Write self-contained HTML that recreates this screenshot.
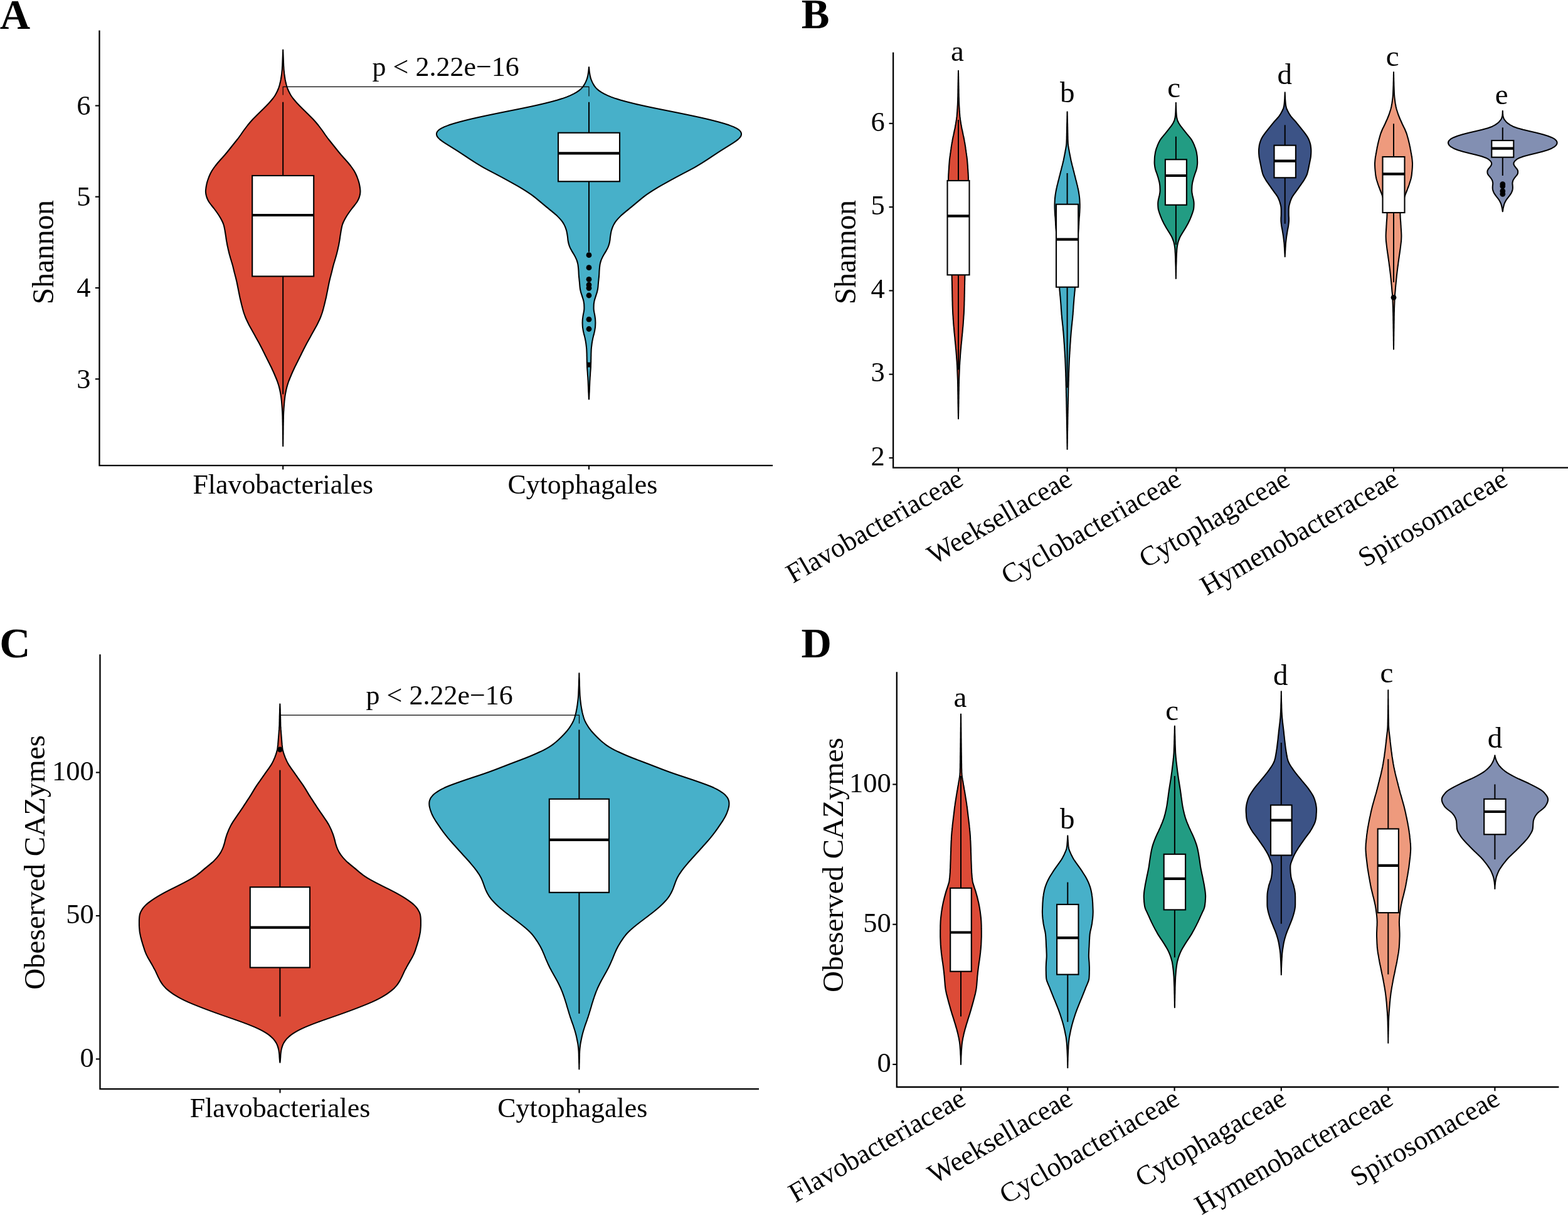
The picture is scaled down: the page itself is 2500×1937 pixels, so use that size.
<!DOCTYPE html>
<html><head><meta charset="utf-8"><title>Figure</title>
<style>
html,body{margin:0;padding:0;background:#fff;}
body{width:2500px;height:1937px;overflow:hidden;}
svg{display:block;}
text{font-family:'Liberation Serif', 'Times New Roman', serif;fill:#000;}
</style></head>
<body>
<svg width="2500" height="1937" viewBox="0 0 2500 1937">
<rect width="2500" height="1937" fill="#fff"/>
<text x="-0.3" y="45.5" font-size="67" text-anchor="start" font-weight="bold">A</text>
<path d="M158.5,48.5 V742.2 H1232" fill="none" stroke="#000" stroke-width="2.3" stroke-linecap="butt" stroke-linejoin="miter"/>
<line x1="151.9" y1="168.5" x2="158.5" y2="168.5" stroke="#000" stroke-width="2.1" stroke-linecap="butt"/>
<text x="144.6" y="182.7" font-size="44.5" text-anchor="end" font-weight="normal">6</text>
<line x1="151.9" y1="313.7" x2="158.5" y2="313.7" stroke="#000" stroke-width="2.1" stroke-linecap="butt"/>
<text x="144.6" y="327.9" font-size="44.5" text-anchor="end" font-weight="normal">5</text>
<line x1="151.9" y1="459" x2="158.5" y2="459" stroke="#000" stroke-width="2.1" stroke-linecap="butt"/>
<text x="144.6" y="473.2" font-size="44.5" text-anchor="end" font-weight="normal">4</text>
<line x1="151.9" y1="604.3" x2="158.5" y2="604.3" stroke="#000" stroke-width="2.1" stroke-linecap="butt"/>
<text x="144.6" y="618.5" font-size="44.5" text-anchor="end" font-weight="normal">3</text>
<line x1="451.2" y1="742.2" x2="451.2" y2="748.5" stroke="#000" stroke-width="2.1" stroke-linecap="butt"/>
<line x1="939" y1="742.2" x2="939" y2="748.5" stroke="#000" stroke-width="2.1" stroke-linecap="butt"/>
<text x="85.3" y="402" font-size="47.5" text-anchor="middle" font-weight="normal" transform="rotate(-90 85.3 402)">Shannon</text>
<text x="451.2" y="787.1" font-size="43.9" text-anchor="middle" font-weight="normal">Flavobacteriales</text>
<text x="928.9" y="787.1" font-size="43.9" text-anchor="middle" font-weight="normal">Cytophagales</text>
<path d="M451.2,79.5 451.3,82 451.4,84.5 451.5,87 451.6,89.5 451.7,92 451.8,94.5 451.9,97 452,99.5 452.1,102 452.2,104.5 452.4,107 452.5,109.5 452.7,112 453,114.5 453.2,117 453.5,119.5 453.9,122 454.3,124.5 454.7,127 455.2,129.5 455.8,132 456.4,134.5 457.1,137 457.9,139.5 458.8,142 459.9,144.5 461.1,147 462.4,149.5 463.8,152 465.5,154.5 467.3,157 469.4,159.5 471.5,162 473.7,164.5 476.1,167 478.5,169.5 481,172 483.5,174.5 486.1,177 488.6,179.5 491.2,182 493.7,184.5 496.2,187 498.7,189.5 501,192 503.2,194.5 505.3,197 507.4,199.5 509.3,202 511.2,204.5 513.1,207 514.9,209.5 516.6,212 518.3,214.5 520.1,217 521.9,219.5 523.8,222 525.8,224.5 527.8,227 529.8,229.5 531.8,232 533.8,234.5 535.8,237 537.8,239.5 539.8,242 541.9,244.5 544,247 546.2,249.5 548.4,252 550.7,254.5 552.9,257 555.1,259.5 557.1,262 559.1,264.5 561,267 562.7,269.5 564.4,272 565.8,274.5 567.1,277 568.2,279.5 569.3,282 570.2,284.5 571.1,287 571.9,289.5 572.6,292 573.1,294.5 573.6,297 574,299.5 574.3,302 574.5,304.5 574.4,307 574.1,309.5 573.5,312 572.8,314.5 571.8,317 570.6,319.5 569.2,322 567.4,324.5 565.5,327 563.5,329.5 561.5,332 559.6,334.5 557.8,337 556,339.5 554.3,342 552.7,344.5 551.2,347 549.8,349.5 548.5,352 547.3,354.5 546.3,357 545.5,359.5 544.9,362 544.4,364.5 543.9,367 543.5,369.5 543.1,372 542.7,374.5 542.3,377 542,379.5 541.6,382 541.2,384.5 540.7,387 540.3,389.5 539.8,392 539.2,394.5 538.7,397 538.1,399.5 537.5,402 536.9,404.5 536.2,407 535.5,409.5 534.8,412 534,414.5 533.3,417 532.5,419.5 531.8,422 531.1,424.5 530.5,427 529.9,429.5 529.3,432 528.7,434.5 528,437 527.4,439.5 526.7,442 526.1,444.5 525.5,447 524.9,449.5 524.4,452 523.9,454.5 523.4,457 522.9,459.5 522.4,462 521.9,464.5 521.4,467 520.9,469.5 520.4,472 519.9,474.5 519.3,477 518.7,479.5 518.1,482 517.5,484.5 516.9,487 516.2,489.5 515.6,492 514.9,494.5 514.2,497 513.4,499.5 512.5,502 511.6,504.5 510.6,507 509.5,509.5 508.3,512 507.1,514.5 505.9,517 504.6,519.5 503.2,522 501.8,524.5 500.4,527 499,529.5 497.6,532 496.2,534.5 494.9,537 493.5,539.5 492.1,542 490.7,544.5 489.3,547 488,549.5 486.7,552 485.4,554.5 484.1,557 482.9,559.5 481.6,562 480.4,564.5 479.2,567 477.9,569.5 476.7,572 475.4,574.5 474.2,577 472.9,579.5 471.7,582 470.4,584.5 469.2,587 468.1,589.5 466.9,592 465.8,594.5 464.7,597 463.7,599.5 462.6,602 461.6,604.5 460.6,607 459.7,609.5 458.9,612 458.1,614.5 457.4,617 456.8,619.5 456.2,622 455.7,624.5 455.2,627 454.8,629.5 454.4,632 454.1,634.5 453.8,637 453.5,639.5 453.3,642 453.1,644.5 452.9,647 452.7,649.5 452.5,652 452.4,654.5 452.2,657 452.1,659.5 452,662 451.9,664.5 451.9,667 451.8,669.5 451.8,672 451.7,674.5 451.7,677 451.6,679.5 451.6,682 451.6,684.5 451.5,687 451.5,689.5 451.5,692 451.4,694.5 451.4,697 451.4,699.5 451.3,702 451.3,704.5 451.3,707 451.2,709.5 451.2,711.3 451.2,709.5 451.1,707 451.1,704.5 451.1,702 451,699.5 451,697 451,694.5 450.9,692 450.9,689.5 450.9,687 450.8,684.5 450.8,682 450.8,679.5 450.7,677 450.7,674.5 450.6,672 450.6,669.5 450.5,667 450.5,664.5 450.4,662 450.3,659.5 450.2,657 450,654.5 449.9,652 449.7,649.5 449.5,647 449.3,644.5 449.1,642 448.9,639.5 448.6,637 448.3,634.5 448,632 447.6,629.5 447.2,627 446.7,624.5 446.2,622 445.6,619.5 445,617 444.3,614.5 443.5,612 442.7,609.5 441.8,607 440.8,604.5 439.8,602 438.7,599.5 437.7,597 436.6,594.5 435.5,592 434.3,589.5 433.2,587 432,584.5 430.7,582 429.5,579.5 428.2,577 427,574.5 425.7,572 424.5,569.5 423.2,567 422,564.5 420.8,562 419.5,559.5 418.3,557 417,554.5 415.7,552 414.4,549.5 413.1,547 411.7,544.5 410.3,542 408.9,539.5 407.5,537 406.2,534.5 404.8,532 403.4,529.5 402,527 400.6,524.5 399.2,522 397.8,519.5 396.5,517 395.3,514.5 394.1,512 392.9,509.5 391.8,507 390.8,504.5 389.9,502 389,499.5 388.2,497 387.5,494.5 386.8,492 386.2,489.5 385.5,487 384.9,484.5 384.3,482 383.7,479.5 383.1,477 382.5,474.5 382,472 381.5,469.5 381,467 380.5,464.5 380,462 379.5,459.5 379,457 378.5,454.5 378,452 377.5,449.5 376.9,447 376.3,444.5 375.7,442 375,439.5 374.4,437 373.7,434.5 373.1,432 372.5,429.5 371.9,427 371.3,424.5 370.6,422 369.9,419.5 369.1,417 368.4,414.5 367.6,412 366.9,409.5 366.2,407 365.5,404.5 364.9,402 364.3,399.5 363.7,397 363.2,394.5 362.6,392 362.1,389.5 361.7,387 361.2,384.5 360.8,382 360.4,379.5 360.1,377 359.7,374.5 359.3,372 358.9,369.5 358.5,367 358,364.5 357.5,362 356.9,359.5 356.1,357 355.1,354.5 353.9,352 352.6,349.5 351.2,347 349.7,344.5 348.1,342 346.4,339.5 344.6,337 342.8,334.5 340.9,332 338.9,329.5 336.9,327 335,324.5 333.2,322 331.8,319.5 330.6,317 329.6,314.5 328.9,312 328.3,309.5 328,307 327.9,304.5 328.1,302 328.4,299.5 328.8,297 329.3,294.5 329.8,292 330.5,289.5 331.3,287 332.2,284.5 333.1,282 334.2,279.5 335.3,277 336.6,274.5 338,272 339.7,269.5 341.4,267 343.3,264.5 345.3,262 347.3,259.5 349.5,257 351.7,254.5 354,252 356.2,249.5 358.4,247 360.5,244.5 362.6,242 364.6,239.5 366.6,237 368.6,234.5 370.6,232 372.6,229.5 374.6,227 376.6,224.5 378.6,222 380.5,219.5 382.3,217 384.1,214.5 385.8,212 387.5,209.5 389.3,207 391.2,204.5 393.1,202 395,199.5 397.1,197 399.2,194.5 401.4,192 403.7,189.5 406.2,187 408.7,184.5 411.2,182 413.8,179.5 416.3,177 418.9,174.5 421.4,172 423.9,169.5 426.3,167 428.7,164.5 430.9,162 433,159.5 435.1,157 436.9,154.5 438.6,152 440,149.5 441.3,147 442.5,144.5 443.6,142 444.5,139.5 445.3,137 446,134.5 446.6,132 447.2,129.5 447.7,127 448.1,124.5 448.5,122 448.9,119.5 449.2,117 449.4,114.5 449.7,112 449.9,109.5 450,107 450.2,104.5 450.3,102 450.4,99.5 450.5,97 450.6,94.5 450.7,92 450.8,89.5 450.9,87 451,84.5 451.1,82Z" fill="#DC4B37" stroke="#000" stroke-width="2.05" stroke-linejoin="round"/>
<line x1="451.2" y1="162.7" x2="451.2" y2="280" stroke="#000" stroke-width="2.0" stroke-linecap="butt"/>
<line x1="451.2" y1="440.5" x2="451.2" y2="628.5" stroke="#000" stroke-width="2.0" stroke-linecap="butt"/>
<rect x="402.2" y="280" width="98" height="160.5" fill="#fff" stroke="#000" stroke-width="2.1"/>
<line x1="402.2" y1="343" x2="500.2" y2="343" stroke="#000" stroke-width="4.2" stroke-linecap="butt"/>
<path d="M939,107.1 939.3,109.6 939.5,112.1 939.8,114.6 940.2,117.1 940.6,119.6 941.1,122.1 941.8,124.6 942.7,127.1 943.7,129.6 944.9,132.1 946.2,134.6 947.8,137.1 949.7,139.6 952.1,142.1 955.2,144.6 958.9,147.1 963.4,149.6 968.5,152.1 974.5,154.6 981.4,157.1 989.3,159.6 998.4,162.1 1008.3,164.6 1018.9,167.1 1030.1,169.6 1042,172.1 1054.3,174.6 1066.9,177.1 1079.3,179.6 1091.5,182.1 1103.5,184.6 1115.1,187.1 1126.2,189.6 1136.4,192.1 1146,194.6 1154.8,197.1 1162.7,199.6 1169.4,202.1 1174.5,204.6 1178.3,207.1 1180.7,209.6 1181.9,212.1 1182,214.6 1181.2,217.1 1179.4,219.6 1176.9,222.1 1173.7,224.6 1170.1,227.1 1166.2,229.6 1162.2,232.1 1158.2,234.6 1154.2,237.1 1150.2,239.6 1146.3,242.1 1142.5,244.6 1138.7,247.1 1134.9,249.6 1131.2,252.1 1127.4,254.6 1123.5,257.1 1119.6,259.6 1115.5,262.1 1111.4,264.6 1107.1,267.1 1102.5,269.6 1097.8,272.1 1093,274.6 1088.2,277.1 1083.5,279.6 1078.8,282.1 1074.2,284.6 1069.6,287.1 1065.1,289.6 1060.6,292.1 1056.1,294.6 1051.7,297.1 1047.5,299.6 1043.4,302.1 1039.4,304.6 1035.6,307.1 1031.9,309.6 1028.4,312.1 1025.2,314.6 1022.1,317.1 1019.1,319.6 1016.1,322.1 1013.1,324.6 1010.1,327.1 1007.1,329.6 1004,332.1 1001,334.6 997.9,337.1 994.9,339.6 992,342.1 989.3,344.6 986.8,347.1 984.5,349.6 982.4,352.1 980.6,354.6 979.1,357.1 977.8,359.6 976.7,362.1 975.8,364.6 975,367.1 974.4,369.6 973.9,372.1 973.5,374.6 973.1,377.1 972.8,379.6 972.6,382.1 972.2,384.6 971.7,387.1 971,389.6 970.2,392.1 969.2,394.6 968,397.1 966.6,399.6 965.1,402.1 963.6,404.6 962.2,407.1 960.8,409.6 959.6,412.1 958.5,414.6 957.7,417.1 957,419.6 956.5,422.1 956.2,424.6 955.9,427.1 955.7,429.6 955.5,432.1 955.4,434.6 955.3,437.1 955.1,439.6 954.9,442.1 954.6,444.6 954.4,447.1 954.1,449.6 953.9,452.1 953.7,454.6 953.5,457.1 953.2,459.6 952.8,462.1 952.2,464.6 951.5,467.1 950.7,469.6 949.9,472.1 949.1,474.6 948.3,477.1 947.6,479.6 947.2,482.1 946.8,484.6 946.7,487.1 946.6,489.6 946.6,492.1 946.8,494.6 947.2,497.1 947.7,499.6 948.2,502.1 948.6,504.6 948.9,507.1 949.2,509.6 949.3,512.1 949.4,514.6 949.3,517.1 949.2,519.6 949,522.1 948.6,524.6 948.2,527.1 947.7,529.6 947.1,532.1 946.4,534.6 945.8,537.1 945.2,539.6 944.7,542.1 944.2,544.6 943.8,547.1 943.5,549.6 943.2,552.1 942.9,554.6 942.7,557.1 942.6,559.6 942.5,562.1 942.4,564.6 942.4,567.1 942.3,569.6 942.3,572.1 942.2,574.6 942.2,577.1 942.1,579.6 942,582.1 941.9,584.6 941.8,587.1 941.6,589.6 941.4,592.1 941.2,594.6 941.1,597.1 940.9,599.6 940.7,602.1 940.6,604.6 940.4,607.1 940.3,609.6 940.2,612.1 940.1,614.6 940,617.1 939.9,619.6 939.8,622.1 939.7,624.6 939.5,627.1 939.4,629.6 939.3,632.1 939.2,634.6 939,636.5 938.8,634.6 938.7,632.1 938.6,629.6 938.5,627.1 938.3,624.6 938.2,622.1 938.1,619.6 938,617.1 937.9,614.6 937.8,612.1 937.7,609.6 937.6,607.1 937.4,604.6 937.3,602.1 937.1,599.6 936.9,597.1 936.8,594.6 936.6,592.1 936.4,589.6 936.2,587.1 936.1,584.6 936,582.1 935.9,579.6 935.8,577.1 935.8,574.6 935.7,572.1 935.7,569.6 935.6,567.1 935.6,564.6 935.5,562.1 935.4,559.6 935.3,557.1 935.1,554.6 934.8,552.1 934.5,549.6 934.2,547.1 933.8,544.6 933.3,542.1 932.8,539.6 932.2,537.1 931.6,534.6 930.9,532.1 930.3,529.6 929.8,527.1 929.4,524.6 929,522.1 928.8,519.6 928.7,517.1 928.6,514.6 928.7,512.1 928.8,509.6 929.1,507.1 929.4,504.6 929.8,502.1 930.3,499.6 930.8,497.1 931.2,494.6 931.4,492.1 931.4,489.6 931.3,487.1 931.2,484.6 930.8,482.1 930.4,479.6 929.7,477.1 928.9,474.6 928.1,472.1 927.3,469.6 926.5,467.1 925.8,464.6 925.2,462.1 924.8,459.6 924.5,457.1 924.3,454.6 924.1,452.1 923.9,449.6 923.6,447.1 923.4,444.6 923.1,442.1 922.9,439.6 922.7,437.1 922.6,434.6 922.5,432.1 922.3,429.6 922.1,427.1 921.8,424.6 921.5,422.1 921,419.6 920.3,417.1 919.5,414.6 918.4,412.1 917.2,409.6 915.8,407.1 914.4,404.6 912.9,402.1 911.4,399.6 910,397.1 908.8,394.6 907.8,392.1 907,389.6 906.3,387.1 905.8,384.6 905.4,382.1 905.2,379.6 904.9,377.1 904.5,374.6 904.1,372.1 903.6,369.6 903,367.1 902.2,364.6 901.3,362.1 900.2,359.6 898.9,357.1 897.4,354.6 895.6,352.1 893.5,349.6 891.2,347.1 888.7,344.6 886,342.1 883.1,339.6 880.1,337.1 877,334.6 874,332.1 870.9,329.6 867.9,327.1 864.9,324.6 861.9,322.1 858.9,319.6 855.9,317.1 852.8,314.6 849.6,312.1 846.1,309.6 842.4,307.1 838.6,304.6 834.6,302.1 830.5,299.6 826.3,297.1 821.9,294.6 817.4,292.1 812.9,289.6 808.4,287.1 803.8,284.6 799.2,282.1 794.5,279.6 789.8,277.1 785,274.6 780.2,272.1 775.5,269.6 770.9,267.1 766.6,264.6 762.5,262.1 758.4,259.6 754.5,257.1 750.6,254.6 746.8,252.1 743.1,249.6 739.3,247.1 735.5,244.6 731.7,242.1 727.8,239.6 723.8,237.1 719.8,234.6 715.8,232.1 711.8,229.6 707.9,227.1 704.3,224.6 701.1,222.1 698.6,219.6 696.8,217.1 696,214.6 696.1,212.1 697.3,209.6 699.7,207.1 703.5,204.6 708.6,202.1 715.3,199.6 723.2,197.1 732,194.6 741.6,192.1 751.8,189.6 762.9,187.1 774.5,184.6 786.5,182.1 798.7,179.6 811.1,177.1 823.7,174.6 836,172.1 847.9,169.6 859.1,167.1 869.7,164.6 879.6,162.1 888.7,159.6 896.6,157.1 903.5,154.6 909.5,152.1 914.6,149.6 919.1,147.1 922.8,144.6 925.9,142.1 928.3,139.6 930.2,137.1 931.8,134.6 933.1,132.1 934.3,129.6 935.3,127.1 936.2,124.6 936.9,122.1 937.4,119.6 937.8,117.1 938.2,114.6 938.5,112.1 938.7,109.6Z" fill="#47B0C9" stroke="#000" stroke-width="2.05" stroke-linejoin="round"/>
<line x1="939" y1="162.7" x2="939" y2="211.7" stroke="#000" stroke-width="2.0" stroke-linecap="butt"/>
<line x1="939" y1="289.3" x2="939" y2="401.7" stroke="#000" stroke-width="2.0" stroke-linecap="butt"/>
<rect x="890" y="211.7" width="98" height="77.6" fill="#fff" stroke="#000" stroke-width="2.1"/>
<line x1="890" y1="244.4" x2="988" y2="244.4" stroke="#000" stroke-width="4.2" stroke-linecap="butt"/>
<circle cx="939" cy="406.7" r="4.4" fill="#000"/>
<circle cx="939" cy="426.7" r="4.4" fill="#000"/>
<circle cx="939" cy="445.3" r="4.4" fill="#000"/>
<circle cx="939" cy="454" r="4.4" fill="#000"/>
<circle cx="939" cy="459.3" r="4.4" fill="#000"/>
<circle cx="939" cy="471" r="4.4" fill="#000"/>
<circle cx="939" cy="509.2" r="4.4" fill="#000"/>
<circle cx="939" cy="524.5" r="4.4" fill="#000"/>
<rect x="935.5" y="577.6" width="7.2" height="8" fill="#000"/>
<path d="M451.2,151.5 V138.3 H939 V153.5" fill="none" stroke="#000" stroke-width="1.15"/>
<text x="593.6" y="121.1" font-size="44.0" text-anchor="start" font-weight="normal">p &lt; 2.22e−16</text>
<text x="1277.8" y="44.8" font-size="67" text-anchor="start" font-weight="bold">B</text>
<path d="M1424.1,83.5 V745.6 H2500" fill="none" stroke="#000" stroke-width="2.3" stroke-linecap="butt" stroke-linejoin="miter"/>
<line x1="1417.5" y1="196.8" x2="1424.1" y2="196.8" stroke="#000" stroke-width="2.1" stroke-linecap="butt"/>
<text x="1410.7" y="208.5" font-size="44.5" text-anchor="end" font-weight="normal">6</text>
<line x1="1417.5" y1="330.1" x2="1424.1" y2="330.1" stroke="#000" stroke-width="2.1" stroke-linecap="butt"/>
<text x="1410.7" y="341.8" font-size="44.5" text-anchor="end" font-weight="normal">5</text>
<line x1="1417.5" y1="463.4" x2="1424.1" y2="463.4" stroke="#000" stroke-width="2.1" stroke-linecap="butt"/>
<text x="1410.7" y="475.1" font-size="44.5" text-anchor="end" font-weight="normal">4</text>
<line x1="1417.5" y1="596.7" x2="1424.1" y2="596.7" stroke="#000" stroke-width="2.1" stroke-linecap="butt"/>
<text x="1410.7" y="608.4" font-size="44.5" text-anchor="end" font-weight="normal">3</text>
<line x1="1417.5" y1="730" x2="1424.1" y2="730" stroke="#000" stroke-width="2.1" stroke-linecap="butt"/>
<text x="1410.7" y="741.7" font-size="44.5" text-anchor="end" font-weight="normal">2</text>
<line x1="1528" y1="745.6" x2="1528" y2="751.9" stroke="#000" stroke-width="2.1" stroke-linecap="butt"/>
<line x1="1701.6" y1="745.6" x2="1701.6" y2="751.9" stroke="#000" stroke-width="2.1" stroke-linecap="butt"/>
<line x1="1875.3" y1="745.6" x2="1875.3" y2="751.9" stroke="#000" stroke-width="2.1" stroke-linecap="butt"/>
<line x1="2048.7" y1="745.6" x2="2048.7" y2="751.9" stroke="#000" stroke-width="2.1" stroke-linecap="butt"/>
<line x1="2222" y1="745.6" x2="2222" y2="751.9" stroke="#000" stroke-width="2.1" stroke-linecap="butt"/>
<line x1="2395.8" y1="745.6" x2="2395.8" y2="751.9" stroke="#000" stroke-width="2.1" stroke-linecap="butt"/>
<text x="1363.9" y="402" font-size="47.5" text-anchor="middle" font-weight="normal" transform="rotate(-90 1363.9 402)">Shannon</text>
<path d="M1528,112.7 1528,115.2 1528.1,117.7 1528.1,120.2 1528.2,122.7 1528.2,125.2 1528.3,127.7 1528.3,130.2 1528.4,132.7 1528.4,135.2 1528.5,137.7 1528.5,140.2 1528.6,142.7 1528.6,145.2 1528.6,147.7 1528.7,150.2 1528.7,152.7 1528.8,155.2 1528.9,157.7 1528.9,160.2 1529,162.7 1529.1,165.2 1529.2,167.7 1529.4,170.2 1529.5,172.7 1529.7,175.2 1529.8,177.7 1530,180.2 1530.2,182.7 1530.4,185.2 1530.7,187.7 1531,190.2 1531.4,192.7 1531.8,195.2 1532.2,197.7 1532.7,200.2 1533.1,202.7 1533.6,205.2 1534.2,207.7 1534.7,210.2 1535.2,212.7 1535.7,215.2 1536.3,217.7 1536.8,220.2 1537.3,222.7 1537.7,225.2 1538.2,227.7 1538.6,230.2 1539,232.7 1539.4,235.2 1539.7,237.7 1540.1,240.2 1540.4,242.7 1540.8,245.2 1541.1,247.7 1541.5,250.2 1541.8,252.7 1542.1,255.2 1542.3,257.7 1542.5,260.2 1542.7,262.7 1542.9,265.2 1543,267.7 1543.2,270.2 1543.4,272.7 1543.5,275.2 1543.7,277.7 1543.8,280.2 1543.9,282.7 1543.9,285.2 1543.9,287.7 1543.9,290.2 1543.9,292.7 1543.9,295.2 1543.9,297.7 1543.8,300.2 1543.8,302.7 1543.8,305.2 1543.8,307.7 1543.8,310.2 1543.7,312.7 1543.7,315.2 1543.7,317.7 1543.6,320.2 1543.6,322.7 1543.6,325.2 1543.5,327.7 1543.5,330.2 1543.5,332.7 1543.4,335.2 1543.3,337.7 1543.3,340.2 1543.2,342.7 1543.1,345.2 1543,347.7 1542.9,350.2 1542.8,352.7 1542.7,355.2 1542.6,357.7 1542.4,360.2 1542.3,362.7 1542.2,365.2 1542.1,367.7 1542,370.2 1541.8,372.7 1541.7,375.2 1541.6,377.7 1541.5,380.2 1541.4,382.7 1541.2,385.2 1541.1,387.7 1541,390.2 1540.8,392.7 1540.7,395.2 1540.6,397.7 1540.4,400.2 1540.3,402.7 1540.1,405.2 1540,407.7 1539.8,410.2 1539.7,412.7 1539.5,415.2 1539.4,417.7 1539.2,420.2 1539.1,422.7 1539,425.2 1538.9,427.7 1538.7,430.2 1538.6,432.7 1538.5,435.2 1538.5,437.7 1538.4,440.2 1538.3,442.7 1538.3,445.2 1538.2,447.7 1538.1,450.2 1538.1,452.7 1538,455.2 1538,457.7 1537.9,460.2 1537.9,462.7 1537.8,465.2 1537.8,467.7 1537.7,470.2 1537.7,472.7 1537.6,475.2 1537.6,477.7 1537.5,480.2 1537.4,482.7 1537.4,485.2 1537.3,487.7 1537.2,490.2 1537.1,492.7 1537,495.2 1536.9,497.7 1536.8,500.2 1536.6,502.7 1536.4,505.2 1536.3,507.7 1536.1,510.2 1535.9,512.7 1535.8,515.2 1535.6,517.7 1535.4,520.2 1535.1,522.7 1534.9,525.2 1534.7,527.7 1534.5,530.2 1534.2,532.7 1534,535.2 1533.7,537.7 1533.5,540.2 1533.3,542.7 1533,545.2 1532.8,547.7 1532.5,550.2 1532.3,552.7 1532.1,555.2 1531.8,557.7 1531.6,560.2 1531.4,562.7 1531.2,565.2 1531,567.7 1530.9,570.2 1530.7,572.7 1530.5,575.2 1530.3,577.7 1530.2,580.2 1530,582.7 1529.9,585.2 1529.8,587.7 1529.7,590.2 1529.6,592.7 1529.5,595.2 1529.4,597.7 1529.3,600.2 1529.2,602.7 1529.1,605.2 1529,607.7 1529,610.2 1528.9,612.7 1528.9,615.2 1528.8,617.7 1528.8,620.2 1528.8,622.7 1528.7,625.2 1528.7,627.7 1528.6,630.2 1528.6,632.7 1528.6,635.2 1528.5,637.7 1528.5,640.2 1528.5,642.7 1528.4,645.2 1528.4,647.7 1528.3,650.2 1528.3,652.7 1528.2,655.2 1528.2,657.7 1528.1,660.2 1528.1,662.7 1528,665.2 1528,667.6 1528,665.2 1527.9,662.7 1527.9,660.2 1527.8,657.7 1527.8,655.2 1527.7,652.7 1527.7,650.2 1527.6,647.7 1527.6,645.2 1527.5,642.7 1527.5,640.2 1527.5,637.7 1527.4,635.2 1527.4,632.7 1527.4,630.2 1527.3,627.7 1527.3,625.2 1527.2,622.7 1527.2,620.2 1527.2,617.7 1527.1,615.2 1527.1,612.7 1527,610.2 1527,607.7 1526.9,605.2 1526.8,602.7 1526.7,600.2 1526.6,597.7 1526.5,595.2 1526.4,592.7 1526.3,590.2 1526.2,587.7 1526.1,585.2 1526,582.7 1525.8,580.2 1525.7,577.7 1525.5,575.2 1525.3,572.7 1525.1,570.2 1525,567.7 1524.8,565.2 1524.6,562.7 1524.4,560.2 1524.2,557.7 1523.9,555.2 1523.7,552.7 1523.5,550.2 1523.2,547.7 1523,545.2 1522.7,542.7 1522.5,540.2 1522.3,537.7 1522,535.2 1521.8,532.7 1521.5,530.2 1521.3,527.7 1521.1,525.2 1520.9,522.7 1520.6,520.2 1520.4,517.7 1520.2,515.2 1520.1,512.7 1519.9,510.2 1519.7,507.7 1519.6,505.2 1519.4,502.7 1519.2,500.2 1519.1,497.7 1519,495.2 1518.9,492.7 1518.8,490.2 1518.7,487.7 1518.6,485.2 1518.6,482.7 1518.5,480.2 1518.4,477.7 1518.4,475.2 1518.3,472.7 1518.3,470.2 1518.2,467.7 1518.2,465.2 1518.1,462.7 1518.1,460.2 1518,457.7 1518,455.2 1517.9,452.7 1517.9,450.2 1517.8,447.7 1517.7,445.2 1517.7,442.7 1517.6,440.2 1517.5,437.7 1517.5,435.2 1517.4,432.7 1517.3,430.2 1517.1,427.7 1517,425.2 1516.9,422.7 1516.8,420.2 1516.6,417.7 1516.5,415.2 1516.3,412.7 1516.2,410.2 1516,407.7 1515.9,405.2 1515.7,402.7 1515.6,400.2 1515.4,397.7 1515.3,395.2 1515.2,392.7 1515,390.2 1514.9,387.7 1514.8,385.2 1514.6,382.7 1514.5,380.2 1514.4,377.7 1514.3,375.2 1514.2,372.7 1514,370.2 1513.9,367.7 1513.8,365.2 1513.7,362.7 1513.6,360.2 1513.4,357.7 1513.3,355.2 1513.2,352.7 1513.1,350.2 1513,347.7 1512.9,345.2 1512.8,342.7 1512.7,340.2 1512.7,337.7 1512.6,335.2 1512.5,332.7 1512.5,330.2 1512.5,327.7 1512.4,325.2 1512.4,322.7 1512.4,320.2 1512.3,317.7 1512.3,315.2 1512.3,312.7 1512.2,310.2 1512.2,307.7 1512.2,305.2 1512.2,302.7 1512.2,300.2 1512.1,297.7 1512.1,295.2 1512.1,292.7 1512.1,290.2 1512.1,287.7 1512.1,285.2 1512.1,282.7 1512.2,280.2 1512.3,277.7 1512.5,275.2 1512.6,272.7 1512.8,270.2 1513,267.7 1513.1,265.2 1513.3,262.7 1513.5,260.2 1513.7,257.7 1513.9,255.2 1514.2,252.7 1514.5,250.2 1514.9,247.7 1515.2,245.2 1515.6,242.7 1515.9,240.2 1516.3,237.7 1516.6,235.2 1517,232.7 1517.4,230.2 1517.8,227.7 1518.3,225.2 1518.7,222.7 1519.2,220.2 1519.7,217.7 1520.3,215.2 1520.8,212.7 1521.3,210.2 1521.8,207.7 1522.4,205.2 1522.9,202.7 1523.3,200.2 1523.8,197.7 1524.2,195.2 1524.6,192.7 1525,190.2 1525.3,187.7 1525.6,185.2 1525.8,182.7 1526,180.2 1526.2,177.7 1526.3,175.2 1526.5,172.7 1526.6,170.2 1526.8,167.7 1526.9,165.2 1527,162.7 1527.1,160.2 1527.1,157.7 1527.2,155.2 1527.3,152.7 1527.3,150.2 1527.4,147.7 1527.4,145.2 1527.4,142.7 1527.5,140.2 1527.5,137.7 1527.6,135.2 1527.6,132.7 1527.7,130.2 1527.7,127.7 1527.8,125.2 1527.8,122.7 1527.9,120.2 1527.9,117.7 1528,115.2Z" fill="#DC4B37" stroke="#000" stroke-width="2.05" stroke-linejoin="round"/>
<line x1="1528" y1="191" x2="1528" y2="288" stroke="#000" stroke-width="2.0" stroke-linecap="butt"/>
<line x1="1528" y1="438.3" x2="1528" y2="589.4" stroke="#000" stroke-width="2.0" stroke-linecap="butt"/>
<rect x="1510.5" y="288" width="35" height="150.3" fill="#fff" stroke="#000" stroke-width="2.1"/>
<line x1="1510.5" y1="344.3" x2="1545.5" y2="344.3" stroke="#000" stroke-width="4.2" stroke-linecap="butt"/>
<path d="M1701.6,178.3 1701.7,180.8 1701.7,183.3 1701.8,185.8 1701.8,188.3 1701.9,190.8 1701.9,193.3 1702,195.8 1702.1,198.3 1702.1,200.8 1702.2,203.3 1702.2,205.8 1702.3,208.3 1702.3,210.8 1702.4,213.3 1702.4,215.8 1702.5,218.3 1702.5,220.8 1702.6,223.3 1702.7,225.8 1702.8,228.3 1703,230.8 1703.3,233.3 1703.8,235.8 1704.2,238.3 1704.7,240.8 1705.1,243.3 1705.6,245.8 1706.1,248.3 1706.6,250.8 1707.1,253.3 1707.6,255.8 1708.2,258.3 1708.8,260.8 1709.4,263.3 1710.1,265.8 1710.7,268.3 1711.3,270.8 1712,273.3 1712.6,275.8 1713.2,278.3 1713.9,280.8 1714.5,283.3 1715.1,285.8 1715.8,288.3 1716.4,290.8 1717,293.3 1717.7,295.8 1718.2,298.3 1718.8,300.8 1719.3,303.3 1719.8,305.8 1720.2,308.3 1720.6,310.8 1720.9,313.3 1721.2,315.8 1721.4,318.3 1721.5,320.8 1721.6,323.3 1721.7,325.8 1721.7,328.3 1721.7,330.8 1721.6,333.3 1721.5,335.8 1721.4,338.3 1721.2,340.8 1721.1,343.3 1720.8,345.8 1720.6,348.3 1720.5,350.8 1720.3,353.3 1720.2,355.8 1720.1,358.3 1719.9,360.8 1719.8,363.3 1719.5,365.8 1719.3,368.3 1719.1,370.8 1719,373.3 1718.8,375.8 1718.6,378.3 1718.4,380.8 1718.2,383.3 1718,385.8 1717.9,388.3 1717.7,390.8 1717.5,393.3 1717.4,395.8 1717.2,398.3 1717.1,400.8 1716.9,403.3 1716.8,405.8 1716.6,408.3 1716.5,410.8 1716.4,413.3 1716.3,415.8 1716.1,418.3 1716,420.8 1715.9,423.3 1715.8,425.8 1715.7,428.3 1715.5,430.8 1715.4,433.3 1715.3,435.8 1715.2,438.3 1715.1,440.8 1714.9,443.3 1714.8,445.8 1714.7,448.3 1714.5,450.8 1714.4,453.3 1714.2,455.8 1714,458.3 1713.9,460.8 1713.7,463.3 1713.4,465.8 1713.2,468.3 1713,470.8 1712.7,473.3 1712.5,475.8 1712.3,478.3 1712.1,480.8 1711.9,483.3 1711.7,485.8 1711.5,488.3 1711.4,490.8 1711.2,493.3 1711,495.8 1710.8,498.3 1710.7,500.8 1710.4,503.3 1710.2,505.8 1710,508.3 1709.7,510.8 1709.4,513.3 1709.2,515.8 1708.9,518.3 1708.6,520.8 1708.4,523.3 1708.2,525.8 1707.9,528.3 1707.7,530.8 1707.5,533.3 1707.3,535.8 1707.1,538.3 1706.9,540.8 1706.8,543.3 1706.6,545.8 1706.4,548.3 1706.2,550.8 1706.1,553.3 1705.9,555.8 1705.8,558.3 1705.6,560.8 1705.5,563.3 1705.3,565.8 1705.2,568.3 1705,570.8 1704.9,573.3 1704.8,575.8 1704.7,578.3 1704.6,580.8 1704.5,583.3 1704.4,585.8 1704.3,588.3 1704.2,590.8 1704.1,593.3 1704,595.8 1704,598.3 1703.9,600.8 1703.8,603.3 1703.8,605.8 1703.7,608.3 1703.6,610.8 1703.6,613.3 1703.5,615.8 1703.4,618.3 1703.4,620.8 1703.3,623.3 1703.3,625.8 1703.2,628.3 1703.2,630.8 1703.1,633.3 1703,635.8 1703,638.3 1702.9,640.8 1702.9,643.3 1702.8,645.8 1702.8,648.3 1702.7,650.8 1702.7,653.3 1702.6,655.8 1702.6,658.3 1702.5,660.8 1702.5,663.3 1702.4,665.8 1702.4,668.3 1702.3,670.8 1702.3,673.3 1702.3,675.8 1702.2,678.3 1702.2,680.8 1702.1,683.3 1702.1,685.8 1702,688.3 1702,690.8 1701.9,693.3 1701.9,695.8 1701.9,698.3 1701.8,700.8 1701.8,703.3 1701.8,705.8 1701.7,708.3 1701.7,710.8 1701.6,713.3 1701.6,715.8 1701.6,716.3 1701.6,715.8 1701.6,713.3 1701.5,710.8 1701.5,708.3 1701.4,705.8 1701.4,703.3 1701.4,700.8 1701.3,698.3 1701.3,695.8 1701.3,693.3 1701.2,690.8 1701.2,688.3 1701.1,685.8 1701.1,683.3 1701,680.8 1701,678.3 1700.9,675.8 1700.9,673.3 1700.9,670.8 1700.8,668.3 1700.8,665.8 1700.7,663.3 1700.7,660.8 1700.6,658.3 1700.6,655.8 1700.5,653.3 1700.5,650.8 1700.4,648.3 1700.4,645.8 1700.3,643.3 1700.3,640.8 1700.2,638.3 1700.2,635.8 1700.1,633.3 1700,630.8 1700,628.3 1699.9,625.8 1699.9,623.3 1699.8,620.8 1699.8,618.3 1699.7,615.8 1699.6,613.3 1699.6,610.8 1699.5,608.3 1699.4,605.8 1699.4,603.3 1699.3,600.8 1699.2,598.3 1699.2,595.8 1699.1,593.3 1699,590.8 1698.9,588.3 1698.8,585.8 1698.7,583.3 1698.6,580.8 1698.5,578.3 1698.4,575.8 1698.3,573.3 1698.2,570.8 1698,568.3 1697.9,565.8 1697.7,563.3 1697.6,560.8 1697.4,558.3 1697.3,555.8 1697.1,553.3 1697,550.8 1696.8,548.3 1696.6,545.8 1696.4,543.3 1696.3,540.8 1696.1,538.3 1695.9,535.8 1695.7,533.3 1695.5,530.8 1695.3,528.3 1695,525.8 1694.8,523.3 1694.6,520.8 1694.3,518.3 1694,515.8 1693.8,513.3 1693.5,510.8 1693.2,508.3 1693,505.8 1692.8,503.3 1692.5,500.8 1692.4,498.3 1692.2,495.8 1692,493.3 1691.8,490.8 1691.7,488.3 1691.5,485.8 1691.3,483.3 1691.1,480.8 1690.9,478.3 1690.7,475.8 1690.5,473.3 1690.2,470.8 1690,468.3 1689.8,465.8 1689.5,463.3 1689.3,460.8 1689.2,458.3 1689,455.8 1688.8,453.3 1688.7,450.8 1688.5,448.3 1688.4,445.8 1688.3,443.3 1688.1,440.8 1688,438.3 1687.9,435.8 1687.8,433.3 1687.7,430.8 1687.5,428.3 1687.4,425.8 1687.3,423.3 1687.2,420.8 1687.1,418.3 1686.9,415.8 1686.8,413.3 1686.7,410.8 1686.6,408.3 1686.4,405.8 1686.3,403.3 1686.1,400.8 1686,398.3 1685.8,395.8 1685.7,393.3 1685.5,390.8 1685.3,388.3 1685.2,385.8 1685,383.3 1684.8,380.8 1684.6,378.3 1684.4,375.8 1684.2,373.3 1684.1,370.8 1683.9,368.3 1683.7,365.8 1683.4,363.3 1683.3,360.8 1683.1,358.3 1683,355.8 1682.9,353.3 1682.7,350.8 1682.6,348.3 1682.4,345.8 1682.1,343.3 1682,340.8 1681.8,338.3 1681.7,335.8 1681.6,333.3 1681.5,330.8 1681.5,328.3 1681.5,325.8 1681.6,323.3 1681.7,320.8 1681.8,318.3 1682,315.8 1682.3,313.3 1682.6,310.8 1683,308.3 1683.4,305.8 1683.9,303.3 1684.4,300.8 1685,298.3 1685.5,295.8 1686.2,293.3 1686.8,290.8 1687.4,288.3 1688.1,285.8 1688.7,283.3 1689.3,280.8 1690,278.3 1690.6,275.8 1691.2,273.3 1691.9,270.8 1692.5,268.3 1693.1,265.8 1693.8,263.3 1694.4,260.8 1695,258.3 1695.6,255.8 1696.1,253.3 1696.6,250.8 1697.1,248.3 1697.6,245.8 1698.1,243.3 1698.5,240.8 1699,238.3 1699.4,235.8 1699.9,233.3 1700.2,230.8 1700.4,228.3 1700.5,225.8 1700.6,223.3 1700.7,220.8 1700.7,218.3 1700.8,215.8 1700.8,213.3 1700.9,210.8 1700.9,208.3 1701,205.8 1701,203.3 1701.1,200.8 1701.1,198.3 1701.2,195.8 1701.3,193.3 1701.3,190.8 1701.4,188.3 1701.4,185.8 1701.5,183.3 1701.5,180.8Z" fill="#47B0C9" stroke="#000" stroke-width="2.05" stroke-linejoin="round"/>
<line x1="1701.6" y1="276" x2="1701.6" y2="325.7" stroke="#000" stroke-width="2.0" stroke-linecap="butt"/>
<line x1="1701.6" y1="457.7" x2="1701.6" y2="618.2" stroke="#000" stroke-width="2.0" stroke-linecap="butt"/>
<rect x="1684" y="325.7" width="35.2" height="132" fill="#fff" stroke="#000" stroke-width="2.1"/>
<line x1="1684" y1="381.7" x2="1719.2" y2="381.7" stroke="#000" stroke-width="4.2" stroke-linecap="butt"/>
<path d="M1874.9,163.8 1874.9,166.3 1875,168.8 1875.1,171.3 1875.2,173.8 1875.3,176.3 1875.4,178.8 1875.6,181.3 1875.8,183.8 1876.1,186.3 1876.5,188.8 1877.2,191.3 1878.2,193.8 1879.4,196.3 1881,198.8 1882.8,201.3 1884.8,203.8 1886.7,206.3 1888.7,208.8 1890.7,211.3 1892.7,213.8 1894.8,216.3 1896.9,218.8 1898.8,221.3 1900.4,223.8 1901.7,226.3 1903,228.8 1904.1,231.3 1905,233.8 1906,236.3 1906.7,238.8 1907.4,241.3 1907.9,243.8 1908.3,246.3 1908.7,248.8 1908.9,251.3 1909,253.8 1909.1,256.3 1909.2,258.8 1909.1,261.3 1908.8,263.8 1908.5,266.3 1908,268.8 1907.3,271.3 1906.4,273.8 1905.5,276.3 1904.7,278.8 1903.9,281.3 1903.1,283.8 1902.5,286.3 1901.8,288.8 1901.2,291.3 1900.8,293.8 1900.5,296.3 1900.4,298.8 1900.3,301.3 1900.2,303.8 1900.4,306.3 1900.7,308.8 1901.2,311.3 1901.8,313.8 1902.4,316.3 1903,318.8 1903.4,321.3 1903.6,323.8 1903.6,326.3 1903.5,328.8 1903.3,331.3 1903,333.8 1902.3,336.3 1901.5,338.8 1900.6,341.3 1899.7,343.8 1898.7,346.3 1897.7,348.8 1896.6,351.3 1895.4,353.8 1894.2,356.3 1892.8,358.8 1891.4,361.3 1890,363.8 1888.4,366.3 1886.9,368.8 1885.3,371.3 1883.8,373.8 1882.3,376.3 1881,378.8 1880,381.3 1879.1,383.8 1878.3,386.3 1877.7,388.8 1877.2,391.3 1876.8,393.8 1876.5,396.3 1876.3,398.8 1876.2,401.3 1876,403.8 1875.9,406.3 1875.8,408.8 1875.7,411.3 1875.6,413.8 1875.6,416.3 1875.5,418.8 1875.4,421.3 1875.3,423.8 1875.2,426.3 1875.2,428.8 1875.1,431.3 1875.1,433.8 1875,436.3 1875,438.8 1874.9,441.3 1874.9,443.8 1874.9,444.1 1874.9,443.8 1874.9,441.3 1874.8,438.8 1874.8,436.3 1874.7,433.8 1874.7,431.3 1874.6,428.8 1874.6,426.3 1874.5,423.8 1874.4,421.3 1874.3,418.8 1874.2,416.3 1874.2,413.8 1874.1,411.3 1874,408.8 1873.9,406.3 1873.8,403.8 1873.6,401.3 1873.5,398.8 1873.3,396.3 1873,393.8 1872.6,391.3 1872.1,388.8 1871.5,386.3 1870.7,383.8 1869.8,381.3 1868.8,378.8 1867.5,376.3 1866,373.8 1864.5,371.3 1862.9,368.8 1861.4,366.3 1859.8,363.8 1858.4,361.3 1857,358.8 1855.6,356.3 1854.4,353.8 1853.2,351.3 1852.1,348.8 1851.1,346.3 1850.1,343.8 1849.2,341.3 1848.3,338.8 1847.5,336.3 1846.8,333.8 1846.5,331.3 1846.3,328.8 1846.2,326.3 1846.2,323.8 1846.4,321.3 1846.8,318.8 1847.4,316.3 1848,313.8 1848.6,311.3 1849.1,308.8 1849.4,306.3 1849.6,303.8 1849.5,301.3 1849.4,298.8 1849.3,296.3 1849,293.8 1848.6,291.3 1848,288.8 1847.3,286.3 1846.7,283.8 1845.9,281.3 1845.1,278.8 1844.3,276.3 1843.4,273.8 1842.5,271.3 1841.8,268.8 1841.3,266.3 1841,263.8 1840.7,261.3 1840.6,258.8 1840.7,256.3 1840.8,253.8 1840.9,251.3 1841.1,248.8 1841.5,246.3 1841.9,243.8 1842.4,241.3 1843.1,238.8 1843.8,236.3 1844.8,233.8 1845.7,231.3 1846.8,228.8 1848.1,226.3 1849.4,223.8 1851,221.3 1852.9,218.8 1855,216.3 1857.1,213.8 1859.1,211.3 1861.1,208.8 1863.1,206.3 1865,203.8 1867,201.3 1868.8,198.8 1870.4,196.3 1871.6,193.8 1872.6,191.3 1873.3,188.8 1873.7,186.3 1874,183.8 1874.2,181.3 1874.4,178.8 1874.5,176.3 1874.6,173.8 1874.7,171.3 1874.8,168.8 1874.9,166.3Z" fill="#229C83" stroke="#000" stroke-width="2.05" stroke-linejoin="round"/>
<line x1="1874.9" y1="217.7" x2="1874.9" y2="254.3" stroke="#000" stroke-width="2.0" stroke-linecap="butt"/>
<line x1="1874.9" y1="326.7" x2="1874.9" y2="390" stroke="#000" stroke-width="2.0" stroke-linecap="butt"/>
<rect x="1857.9" y="254.3" width="34" height="72.4" fill="#fff" stroke="#000" stroke-width="2.1"/>
<line x1="1857.9" y1="280" x2="1891.9" y2="280" stroke="#000" stroke-width="4.2" stroke-linecap="butt"/>
<path d="M2048.7,147.3 2048.8,149.8 2048.9,152.3 2049,154.8 2049.1,157.3 2049.3,159.8 2049.5,162.3 2049.7,164.8 2050,167.3 2050.4,169.8 2051.1,172.3 2052.1,174.8 2053.3,177.3 2054.6,179.8 2056.1,182.3 2057.8,184.8 2059.7,187.3 2061.9,189.8 2064.2,192.3 2066.5,194.8 2068.6,197.3 2070.6,199.8 2072.6,202.3 2074.6,204.8 2076.6,207.3 2078.6,209.8 2080.5,212.3 2082.3,214.8 2084,217.3 2085.4,219.8 2086.7,222.3 2087.7,224.8 2088.5,227.3 2089.2,229.8 2089.7,232.3 2090,234.8 2090.3,237.3 2090.4,239.8 2090.4,242.3 2090.3,244.8 2090.1,247.3 2089.9,249.8 2089.5,252.3 2089,254.8 2088.5,257.3 2088,259.8 2087.5,262.3 2087,264.8 2086.5,267.3 2086,269.8 2085.4,272.3 2084.8,274.8 2084.1,277.3 2083.1,279.8 2081.9,282.3 2080.5,284.8 2079,287.3 2077.3,289.8 2075.5,292.3 2073.8,294.8 2072,297.3 2070.3,299.8 2068.5,302.3 2066.7,304.8 2064.9,307.3 2063,309.8 2061.3,312.3 2059.9,314.8 2058.7,317.3 2057.7,319.8 2056.9,322.3 2056.2,324.8 2055.5,327.3 2055,329.8 2054.8,332.3 2054.7,334.8 2054.7,337.3 2054.7,339.8 2054.7,342.3 2054.8,344.8 2055,347.3 2055,349.8 2055,352.3 2054.8,354.8 2054.5,357.3 2054.2,359.8 2053.8,362.3 2053.3,364.8 2052.8,367.3 2052.4,369.8 2052,372.3 2051.6,374.8 2051.2,377.3 2050.9,379.8 2050.6,382.3 2050.3,384.8 2050,387.3 2049.8,389.8 2049.7,392.3 2049.5,394.8 2049.4,397.3 2049.2,399.8 2049.1,402.3 2048.9,404.8 2048.8,407.3 2048.7,409.3 2048.6,407.3 2048.5,404.8 2048.3,402.3 2048.2,399.8 2048,397.3 2047.9,394.8 2047.7,392.3 2047.6,389.8 2047.4,387.3 2047.1,384.8 2046.8,382.3 2046.5,379.8 2046.2,377.3 2045.8,374.8 2045.4,372.3 2045,369.8 2044.6,367.3 2044.1,364.8 2043.6,362.3 2043.2,359.8 2042.9,357.3 2042.6,354.8 2042.4,352.3 2042.4,349.8 2042.4,347.3 2042.6,344.8 2042.7,342.3 2042.7,339.8 2042.7,337.3 2042.7,334.8 2042.6,332.3 2042.4,329.8 2041.9,327.3 2041.2,324.8 2040.5,322.3 2039.7,319.8 2038.7,317.3 2037.5,314.8 2036.1,312.3 2034.4,309.8 2032.5,307.3 2030.7,304.8 2028.9,302.3 2027.1,299.8 2025.4,297.3 2023.6,294.8 2021.9,292.3 2020.1,289.8 2018.4,287.3 2016.9,284.8 2015.5,282.3 2014.3,279.8 2013.3,277.3 2012.6,274.8 2012,272.3 2011.4,269.8 2010.9,267.3 2010.4,264.8 2009.9,262.3 2009.4,259.8 2008.9,257.3 2008.4,254.8 2007.9,252.3 2007.5,249.8 2007.3,247.3 2007.1,244.8 2007,242.3 2007,239.8 2007.1,237.3 2007.4,234.8 2007.7,232.3 2008.2,229.8 2008.9,227.3 2009.7,224.8 2010.7,222.3 2012,219.8 2013.4,217.3 2015.1,214.8 2016.9,212.3 2018.8,209.8 2020.8,207.3 2022.8,204.8 2024.8,202.3 2026.8,199.8 2028.8,197.3 2030.9,194.8 2033.2,192.3 2035.5,189.8 2037.7,187.3 2039.6,184.8 2041.3,182.3 2042.8,179.8 2044.1,177.3 2045.3,174.8 2046.3,172.3 2047,169.8 2047.4,167.3 2047.7,164.8 2047.9,162.3 2048.1,159.8 2048.3,157.3 2048.4,154.8 2048.5,152.3 2048.6,149.8Z" fill="#3C5386" stroke="#000" stroke-width="2.05" stroke-linejoin="round"/>
<line x1="2048.7" y1="199.3" x2="2048.7" y2="231.7" stroke="#000" stroke-width="2.0" stroke-linecap="butt"/>
<line x1="2048.7" y1="283.3" x2="2048.7" y2="356.7" stroke="#000" stroke-width="2.0" stroke-linecap="butt"/>
<rect x="2031.5" y="231.7" width="34.4" height="51.6" fill="#fff" stroke="#000" stroke-width="2.1"/>
<line x1="2031.5" y1="256.7" x2="2065.9" y2="256.7" stroke="#000" stroke-width="4.2" stroke-linecap="butt"/>
<path d="M2222,115 2222,117.5 2222.1,120 2222.1,122.5 2222.2,125 2222.2,127.5 2222.3,130 2222.4,132.5 2222.4,135 2222.5,137.5 2222.6,140 2222.7,142.5 2222.8,145 2222.9,147.5 2223,150 2223.2,152.5 2223.4,155 2223.7,157.5 2224,160 2224.3,162.5 2224.7,165 2225.2,167.5 2225.6,170 2226.2,172.5 2226.9,175 2227.7,177.5 2228.5,180 2229.3,182.5 2230.3,185 2231.3,187.5 2232.3,190 2233.5,192.5 2234.6,195 2235.7,197.5 2236.9,200 2238.1,202.5 2239.4,205 2240.5,207.5 2241.5,210 2242.5,212.5 2243.3,215 2244,217.5 2244.7,220 2245.4,222.5 2246,225 2246.6,227.5 2247.2,230 2247.7,232.5 2248.3,235 2248.7,237.5 2249.2,240 2249.6,242.5 2250.1,245 2250.5,247.5 2251,250 2251.3,252.5 2251.6,255 2251.8,257.5 2252,260 2252,262.5 2251.9,265 2251.8,267.5 2251.6,270 2251.4,272.5 2251.1,275 2250.9,277.5 2250.6,280 2250.1,282.5 2249.6,285 2248.9,287.5 2248.1,290 2247.3,292.5 2246.5,295 2245.6,297.5 2244.6,300 2243.7,302.5 2242.7,305 2241.7,307.5 2240.8,310 2239.9,312.5 2239.1,315 2238.3,317.5 2237.5,320 2236.7,322.5 2236,325 2235.2,327.5 2234.5,330 2233.7,332.5 2233.1,335 2232.7,337.5 2232.5,340 2232.5,342.5 2232.6,345 2232.7,347.5 2232.9,350 2233.1,352.5 2233.3,355 2233.4,357.5 2233.6,360 2233.7,362.5 2233.9,365 2234,367.5 2234.2,370 2234.3,372.5 2234.4,375 2234.4,377.5 2234.3,380 2234.2,382.5 2234,385 2233.7,387.5 2233.4,390 2233.1,392.5 2232.8,395 2232.5,397.5 2232.1,400 2231.8,402.5 2231.4,405 2231,407.5 2230.7,410 2230.3,412.5 2230,415 2229.6,417.5 2229.3,420 2229,422.5 2228.6,425 2228.3,427.5 2228,430 2227.7,432.5 2227.4,435 2227.1,437.5 2226.8,440 2226.6,442.5 2226.3,445 2226.1,447.5 2225.8,450 2225.6,452.5 2225.3,455 2225.1,457.5 2224.9,460 2224.7,462.5 2224.5,465 2224.2,467.5 2224,470 2223.9,472.5 2223.7,475 2223.6,477.5 2223.5,480 2223.4,482.5 2223.3,485 2223.2,487.5 2223.1,490 2223,492.5 2223,495 2222.9,497.5 2222.8,500 2222.8,502.5 2222.7,505 2222.7,507.5 2222.7,510 2222.6,512.5 2222.6,515 2222.5,517.5 2222.5,520 2222.5,522.5 2222.4,525 2222.4,527.5 2222.3,530 2222.3,532.5 2222.3,535 2222.2,537.5 2222.2,540 2222.2,542.5 2222.1,545 2222.1,547.5 2222.1,550 2222,552.5 2222,555 2222,556.7 2222,555 2222,552.5 2221.9,550 2221.9,547.5 2221.9,545 2221.8,542.5 2221.8,540 2221.8,537.5 2221.7,535 2221.7,532.5 2221.7,530 2221.6,527.5 2221.6,525 2221.5,522.5 2221.5,520 2221.5,517.5 2221.4,515 2221.4,512.5 2221.3,510 2221.3,507.5 2221.3,505 2221.2,502.5 2221.2,500 2221.1,497.5 2221,495 2221,492.5 2220.9,490 2220.8,487.5 2220.7,485 2220.6,482.5 2220.5,480 2220.4,477.5 2220.3,475 2220.1,472.5 2220,470 2219.8,467.5 2219.5,465 2219.3,462.5 2219.1,460 2218.9,457.5 2218.7,455 2218.4,452.5 2218.2,450 2217.9,447.5 2217.7,445 2217.4,442.5 2217.2,440 2216.9,437.5 2216.6,435 2216.3,432.5 2216,430 2215.7,427.5 2215.4,425 2215,422.5 2214.7,420 2214.4,417.5 2214,415 2213.7,412.5 2213.3,410 2213,407.5 2212.6,405 2212.2,402.5 2211.9,400 2211.5,397.5 2211.2,395 2210.9,392.5 2210.6,390 2210.3,387.5 2210,385 2209.8,382.5 2209.7,380 2209.6,377.5 2209.6,375 2209.7,372.5 2209.8,370 2210,367.5 2210.1,365 2210.3,362.5 2210.4,360 2210.6,357.5 2210.7,355 2210.9,352.5 2211.1,350 2211.3,347.5 2211.4,345 2211.5,342.5 2211.5,340 2211.3,337.5 2210.9,335 2210.3,332.5 2209.5,330 2208.8,327.5 2208,325 2207.3,322.5 2206.5,320 2205.7,317.5 2204.9,315 2204.1,312.5 2203.2,310 2202.3,307.5 2201.3,305 2200.3,302.5 2199.4,300 2198.4,297.5 2197.5,295 2196.7,292.5 2195.9,290 2195.1,287.5 2194.4,285 2193.9,282.5 2193.4,280 2193.1,277.5 2192.9,275 2192.6,272.5 2192.4,270 2192.2,267.5 2192.1,265 2192,262.5 2192,260 2192.2,257.5 2192.4,255 2192.7,252.5 2193,250 2193.5,247.5 2193.9,245 2194.4,242.5 2194.8,240 2195.3,237.5 2195.7,235 2196.3,232.5 2196.8,230 2197.4,227.5 2198,225 2198.6,222.5 2199.3,220 2200,217.5 2200.7,215 2201.5,212.5 2202.5,210 2203.5,207.5 2204.6,205 2205.9,202.5 2207.1,200 2208.3,197.5 2209.4,195 2210.5,192.5 2211.7,190 2212.7,187.5 2213.7,185 2214.7,182.5 2215.5,180 2216.3,177.5 2217.1,175 2217.8,172.5 2218.4,170 2218.8,167.5 2219.3,165 2219.7,162.5 2220,160 2220.3,157.5 2220.6,155 2220.8,152.5 2221,150 2221.1,147.5 2221.2,145 2221.3,142.5 2221.4,140 2221.5,137.5 2221.6,135 2221.6,132.5 2221.7,130 2221.8,127.5 2221.8,125 2221.9,122.5 2221.9,120 2222,117.5Z" fill="#EE9A7D" stroke="#000" stroke-width="2.05" stroke-linejoin="round"/>
<line x1="2222" y1="197.3" x2="2222" y2="250" stroke="#000" stroke-width="2.0" stroke-linecap="butt"/>
<line x1="2222" y1="339" x2="2222" y2="450" stroke="#000" stroke-width="2.0" stroke-linecap="butt"/>
<rect x="2204.5" y="250" width="35" height="89" fill="#fff" stroke="#000" stroke-width="2.1"/>
<line x1="2204.5" y1="277.3" x2="2239.5" y2="277.3" stroke="#000" stroke-width="4.2" stroke-linecap="butt"/>
<circle cx="2222" cy="474.3" r="4.4" fill="#000"/>
<path d="M2395.8,176.7 2395.9,179.2 2396,181.7 2396.3,184.2 2396.8,186.7 2397.7,189.2 2399.3,191.7 2401.4,194.2 2404.2,196.7 2407.7,199.2 2412.5,201.7 2419.5,204.2 2428.7,206.7 2439.2,209.2 2450,211.7 2459.7,214.2 2467.8,216.7 2474.1,219.2 2478.7,221.7 2481.4,224.2 2482.6,226.7 2482.4,229.2 2480.9,231.7 2478.1,234.2 2473.7,236.7 2467.3,239.2 2459,241.7 2449.2,244.2 2438.8,246.7 2429.4,249.2 2422.5,251.7 2418,254.2 2415.2,256.7 2413.6,259.2 2413.4,261.7 2414.4,264.2 2416.3,266.7 2418.5,269.2 2419.9,271.7 2420.2,274.2 2419.9,276.7 2418.5,279.2 2416.4,281.7 2414.4,284.2 2412.8,286.7 2411.9,289.2 2411.4,291.7 2411.5,294.2 2411.8,296.7 2411.9,299.2 2411.7,301.7 2411.1,304.2 2410.1,306.7 2408.7,309.2 2407,311.7 2405.1,314.2 2403.1,316.7 2401.3,319.2 2399.9,321.7 2398.7,324.2 2397.9,326.7 2397.3,329.2 2396.7,331.7 2396.3,334.2 2396,336.7 2395.8,337.3 2395.6,336.7 2395.3,334.2 2394.9,331.7 2394.3,329.2 2393.7,326.7 2392.9,324.2 2391.7,321.7 2390.3,319.2 2388.5,316.7 2386.5,314.2 2384.6,311.7 2382.9,309.2 2381.5,306.7 2380.5,304.2 2379.9,301.7 2379.7,299.2 2379.8,296.7 2380.1,294.2 2380.2,291.7 2379.7,289.2 2378.8,286.7 2377.2,284.2 2375.2,281.7 2373.1,279.2 2371.7,276.7 2371.4,274.2 2371.7,271.7 2373.1,269.2 2375.3,266.7 2377.2,264.2 2378.2,261.7 2378,259.2 2376.4,256.7 2373.6,254.2 2369.1,251.7 2362.2,249.2 2352.8,246.7 2342.4,244.2 2332.6,241.7 2324.3,239.2 2317.9,236.7 2313.5,234.2 2310.7,231.7 2309.2,229.2 2309,226.7 2310.2,224.2 2312.9,221.7 2317.5,219.2 2323.8,216.7 2331.9,214.2 2341.6,211.7 2352.4,209.2 2362.9,206.7 2372.1,204.2 2379.1,201.7 2383.9,199.2 2387.4,196.7 2390.2,194.2 2392.3,191.7 2393.9,189.2 2394.8,186.7 2395.3,184.2 2395.6,181.7 2395.7,179.2Z" fill="#828FB2" stroke="#000" stroke-width="2.05" stroke-linejoin="round"/>
<line x1="2395.8" y1="203.3" x2="2395.8" y2="224" stroke="#000" stroke-width="2.0" stroke-linecap="butt"/>
<line x1="2395.8" y1="250.7" x2="2395.8" y2="280" stroke="#000" stroke-width="2.0" stroke-linecap="butt"/>
<rect x="2378.3" y="224" width="35" height="26.7" fill="#fff" stroke="#000" stroke-width="2.1"/>
<line x1="2378.3" y1="236.7" x2="2413.3" y2="236.7" stroke="#000" stroke-width="4.2" stroke-linecap="butt"/>
<circle cx="2395.8" cy="293.6" r="4.4" fill="#000"/>
<circle cx="2395.8" cy="296.8" r="4.4" fill="#000"/>
<circle cx="2395.8" cy="304.7" r="4.4" fill="#000"/>
<circle cx="2395.8" cy="309.3" r="4.4" fill="#000"/>
<text x="1526.4" y="97.3" font-size="47" text-anchor="middle" font-weight="normal">a</text>
<text x="1701.7" y="162.8" font-size="47" text-anchor="middle" font-weight="normal">b</text>
<text x="1871.6" y="154.5" font-size="47" text-anchor="middle" font-weight="normal">c</text>
<text x="2048.2" y="134.2" font-size="47" text-anchor="middle" font-weight="normal">d</text>
<text x="2220.2" y="104.9" font-size="47" text-anchor="middle" font-weight="normal">c</text>
<text x="2394.2" y="166.4" font-size="47" text-anchor="middle" font-weight="normal">e</text>
<text x="1538.5" y="772.1" font-size="43.9" text-anchor="end" font-weight="normal" transform="rotate(-30 1538.5 772.1)">Flavobacteriaceae</text>
<text x="1712.1" y="772.1" font-size="43.9" text-anchor="end" font-weight="normal" transform="rotate(-30 1712.1 772.1)">Weeksellaceae</text>
<text x="1885.8" y="772.1" font-size="43.9" text-anchor="end" font-weight="normal" transform="rotate(-30 1885.8 772.1)">Cyclobacteriaceae</text>
<text x="2059.2" y="772.1" font-size="43.9" text-anchor="end" font-weight="normal" transform="rotate(-30 2059.2 772.1)">Cytophagaceae</text>
<text x="2232.5" y="772.1" font-size="43.9" text-anchor="end" font-weight="normal" transform="rotate(-30 2232.5 772.1)">Hymenobacteraceae</text>
<text x="2406.3" y="772.1" font-size="43.9" text-anchor="end" font-weight="normal" transform="rotate(-30 2406.3 772.1)">Spirosomaceae</text>
<text x="-0.8" y="1047.8" font-size="68" text-anchor="start" font-weight="bold">C</text>
<path d="M159.5,1043.2 V1736.2 H1210" fill="none" stroke="#000" stroke-width="2.3" stroke-linecap="butt" stroke-linejoin="miter"/>
<line x1="152.9" y1="1231.5" x2="159.5" y2="1231.5" stroke="#000" stroke-width="2.1" stroke-linecap="butt"/>
<text x="149.7" y="1243.7" font-size="44.5" text-anchor="end" font-weight="normal">100</text>
<line x1="152.9" y1="1460" x2="159.5" y2="1460" stroke="#000" stroke-width="2.1" stroke-linecap="butt"/>
<text x="149.7" y="1472.2" font-size="44.5" text-anchor="end" font-weight="normal">50</text>
<line x1="152.9" y1="1688.4" x2="159.5" y2="1688.4" stroke="#000" stroke-width="2.1" stroke-linecap="butt"/>
<text x="149.7" y="1700.6" font-size="44.5" text-anchor="end" font-weight="normal">0</text>
<line x1="446.5" y1="1736.2" x2="446.5" y2="1742.5" stroke="#000" stroke-width="2.1" stroke-linecap="butt"/>
<line x1="923.5" y1="1736.2" x2="923.5" y2="1742.5" stroke="#000" stroke-width="2.1" stroke-linecap="butt"/>
<text x="70.6" y="1374.9" font-size="47.0" text-anchor="middle" font-weight="normal" transform="rotate(-90 70.6 1374.9)">Obeserved CAZymes</text>
<text x="446.5" y="1781.1" font-size="43.9" text-anchor="middle" font-weight="normal">Flavobacteriales</text>
<text x="912.8" y="1781.1" font-size="43.9" text-anchor="middle" font-weight="normal">Cytophagales</text>
<path d="M446.4,1122.4 446.5,1124.9 446.6,1127.4 446.7,1129.9 446.8,1132.4 446.8,1134.9 446.9,1137.4 447,1139.9 447.1,1142.4 447.1,1144.9 447.2,1147.4 447.2,1149.9 447.3,1152.4 447.3,1154.9 447.4,1157.4 447.6,1159.9 447.7,1162.4 447.9,1164.9 448.1,1167.4 448.3,1169.9 448.5,1172.4 448.7,1174.9 448.9,1177.4 449.1,1179.9 449.3,1182.4 449.5,1184.9 449.7,1187.4 450,1189.9 450.3,1192.4 450.7,1194.9 451.3,1197.4 452,1199.9 452.8,1202.4 453.7,1204.9 454.6,1207.4 455.7,1209.9 456.8,1212.4 458,1214.9 459.3,1217.4 460.8,1219.9 462.5,1222.4 464.2,1224.9 466,1227.4 467.8,1229.9 469.6,1232.4 471.3,1234.9 473.1,1237.4 474.8,1239.9 476.6,1242.4 478.3,1244.9 480.1,1247.4 481.9,1249.9 483.6,1252.4 485.2,1254.9 486.8,1257.4 488.3,1259.9 489.8,1262.4 491.3,1264.9 492.8,1267.4 494.4,1269.9 496,1272.4 497.7,1274.9 499.3,1277.4 500.9,1279.9 502.6,1282.4 504.2,1284.9 505.8,1287.4 507.5,1289.9 509.2,1292.4 510.9,1294.9 512.7,1297.4 514.4,1299.9 516.1,1302.4 517.8,1304.9 519.5,1307.4 521.2,1309.9 522.7,1312.4 524.2,1314.9 525.5,1317.4 526.7,1319.9 527.9,1322.4 528.9,1324.9 529.9,1327.4 530.9,1329.9 531.7,1332.4 532.5,1334.9 533.2,1337.4 533.9,1339.9 534.5,1342.4 535.1,1344.9 535.9,1347.4 536.7,1349.9 537.7,1352.4 538.8,1354.9 540.1,1357.4 541.5,1359.9 543.1,1362.4 545,1364.9 547,1367.4 549.3,1369.9 551.7,1372.4 554.4,1374.9 557.3,1377.4 560.3,1379.9 563.4,1382.4 566.5,1384.9 569.4,1387.4 572.3,1389.9 575.4,1392.4 578.6,1394.9 582.2,1397.4 586.1,1399.9 590.4,1402.4 595,1404.9 599.7,1407.4 604.6,1409.9 609.5,1412.4 614.5,1414.9 619.6,1417.4 624.5,1419.9 629.3,1422.4 633.9,1424.9 638.3,1427.4 642.5,1429.9 646.5,1432.4 650.2,1434.9 653.7,1437.4 657,1439.9 659.9,1442.4 662.4,1444.9 664.5,1447.4 666.3,1449.9 667.7,1452.4 668.9,1454.9 669.8,1457.4 670.3,1459.9 670.6,1462.4 670.8,1464.9 670.9,1467.4 670.9,1469.9 670.9,1472.4 670.9,1474.9 670.8,1477.4 670.6,1479.9 670.4,1482.4 670.2,1484.9 669.8,1487.4 669.3,1489.9 668.8,1492.4 668.2,1494.9 667.5,1497.4 666.9,1499.9 666.1,1502.4 665.4,1504.9 664.6,1507.4 663.8,1509.9 663,1512.4 662.2,1514.9 661.3,1517.4 660.3,1519.9 659.2,1522.4 657.9,1524.9 656.5,1527.4 655.1,1529.9 653.6,1532.4 652.2,1534.9 650.7,1537.4 649.3,1539.9 648,1542.4 646.6,1544.9 645.3,1547.4 644.1,1549.9 643,1552.4 641.8,1554.9 640.7,1557.4 639.4,1559.9 638.1,1562.4 636.7,1564.9 635.1,1567.4 633.4,1569.9 631.3,1572.4 629,1574.9 626.3,1577.4 623.3,1579.9 620,1582.4 616.5,1584.9 612.5,1587.4 608.3,1589.9 603.7,1592.4 598.7,1594.9 593.3,1597.4 587.5,1599.9 581.4,1602.4 575.1,1604.9 568.7,1607.4 562.1,1609.9 555.4,1612.4 548.5,1614.9 541.5,1617.4 534.4,1619.9 527.2,1622.4 520,1624.9 512.9,1627.4 506,1629.9 499.3,1632.4 493,1634.9 486.9,1637.4 481.4,1639.9 476.3,1642.4 471.8,1644.9 467.7,1647.4 464.1,1649.9 461,1652.4 458.3,1654.9 456.1,1657.4 454.2,1659.9 452.6,1662.4 451.3,1664.9 450.3,1667.4 449.5,1669.9 448.8,1672.4 448.3,1674.9 447.9,1677.4 447.6,1679.9 447.4,1682.4 447.3,1684.9 447.1,1687.4 446.9,1689.9 446.7,1692.4 446.4,1693.9 446.1,1692.4 445.9,1689.9 445.7,1687.4 445.5,1684.9 445.4,1682.4 445.2,1679.9 444.9,1677.4 444.5,1674.9 444,1672.4 443.3,1669.9 442.5,1667.4 441.5,1664.9 440.2,1662.4 438.6,1659.9 436.7,1657.4 434.5,1654.9 431.8,1652.4 428.7,1649.9 425.1,1647.4 421,1644.9 416.5,1642.4 411.4,1639.9 405.9,1637.4 399.8,1634.9 393.5,1632.4 386.8,1629.9 379.9,1627.4 372.8,1624.9 365.6,1622.4 358.4,1619.9 351.3,1617.4 344.3,1614.9 337.4,1612.4 330.7,1609.9 324.1,1607.4 317.7,1604.9 311.4,1602.4 305.3,1599.9 299.5,1597.4 294.1,1594.9 289.1,1592.4 284.5,1589.9 280.3,1587.4 276.3,1584.9 272.8,1582.4 269.5,1579.9 266.5,1577.4 263.8,1574.9 261.5,1572.4 259.4,1569.9 257.7,1567.4 256.1,1564.9 254.7,1562.4 253.4,1559.9 252.1,1557.4 251,1554.9 249.8,1552.4 248.7,1549.9 247.5,1547.4 246.2,1544.9 244.8,1542.4 243.5,1539.9 242.1,1537.4 240.6,1534.9 239.2,1532.4 237.7,1529.9 236.3,1527.4 234.9,1524.9 233.6,1522.4 232.5,1519.9 231.5,1517.4 230.6,1514.9 229.8,1512.4 229,1509.9 228.2,1507.4 227.4,1504.9 226.7,1502.4 225.9,1499.9 225.3,1497.4 224.6,1494.9 224,1492.4 223.5,1489.9 223,1487.4 222.6,1484.9 222.4,1482.4 222.2,1479.9 222,1477.4 221.9,1474.9 221.9,1472.4 221.9,1469.9 221.9,1467.4 222,1464.9 222.2,1462.4 222.5,1459.9 223,1457.4 223.9,1454.9 225.1,1452.4 226.5,1449.9 228.3,1447.4 230.4,1444.9 232.9,1442.4 235.8,1439.9 239.1,1437.4 242.6,1434.9 246.3,1432.4 250.3,1429.9 254.5,1427.4 258.9,1424.9 263.5,1422.4 268.3,1419.9 273.2,1417.4 278.3,1414.9 283.3,1412.4 288.2,1409.9 293.1,1407.4 297.8,1404.9 302.4,1402.4 306.7,1399.9 310.6,1397.4 314.2,1394.9 317.4,1392.4 320.5,1389.9 323.4,1387.4 326.3,1384.9 329.4,1382.4 332.5,1379.9 335.5,1377.4 338.4,1374.9 341.1,1372.4 343.5,1369.9 345.8,1367.4 347.8,1364.9 349.7,1362.4 351.3,1359.9 352.7,1357.4 354,1354.9 355.1,1352.4 356.1,1349.9 356.9,1347.4 357.7,1344.9 358.3,1342.4 358.9,1339.9 359.6,1337.4 360.3,1334.9 361.1,1332.4 361.9,1329.9 362.9,1327.4 363.9,1324.9 364.9,1322.4 366.1,1319.9 367.3,1317.4 368.6,1314.9 370.1,1312.4 371.6,1309.9 373.3,1307.4 375,1304.9 376.7,1302.4 378.4,1299.9 380.1,1297.4 381.9,1294.9 383.6,1292.4 385.3,1289.9 387,1287.4 388.6,1284.9 390.2,1282.4 391.9,1279.9 393.5,1277.4 395.1,1274.9 396.8,1272.4 398.4,1269.9 400,1267.4 401.5,1264.9 403,1262.4 404.5,1259.9 406,1257.4 407.6,1254.9 409.2,1252.4 410.9,1249.9 412.7,1247.4 414.5,1244.9 416.2,1242.4 418,1239.9 419.7,1237.4 421.5,1234.9 423.2,1232.4 425,1229.9 426.8,1227.4 428.6,1224.9 430.3,1222.4 432,1219.9 433.5,1217.4 434.8,1214.9 436,1212.4 437.1,1209.9 438.2,1207.4 439.1,1204.9 440,1202.4 440.8,1199.9 441.5,1197.4 442.1,1194.9 442.5,1192.4 442.8,1189.9 443.1,1187.4 443.3,1184.9 443.5,1182.4 443.7,1179.9 443.9,1177.4 444.1,1174.9 444.3,1172.4 444.5,1169.9 444.7,1167.4 444.9,1164.9 445.1,1162.4 445.2,1159.9 445.4,1157.4 445.5,1154.9 445.5,1152.4 445.6,1149.9 445.6,1147.4 445.7,1144.9 445.7,1142.4 445.8,1139.9 445.9,1137.4 446,1134.9 446,1132.4 446.1,1129.9 446.2,1127.4 446.3,1124.9Z" fill="#DC4B37" stroke="#000" stroke-width="2.05" stroke-linejoin="round"/>
<line x1="446.4" y1="1227.7" x2="446.4" y2="1414.3" stroke="#000" stroke-width="2.0" stroke-linecap="butt"/>
<line x1="446.4" y1="1542.5" x2="446.4" y2="1620.6" stroke="#000" stroke-width="2.0" stroke-linecap="butt"/>
<rect x="398.8" y="1414.3" width="95.2" height="128.2" fill="#fff" stroke="#000" stroke-width="2.1"/>
<line x1="398.8" y1="1478.7" x2="494" y2="1478.7" stroke="#000" stroke-width="4.2" stroke-linecap="butt"/>
<circle cx="446.4" cy="1195" r="4.4" fill="#000"/>
<path d="M923.4,1073.3 923.5,1075.8 923.5,1078.3 923.6,1080.8 923.7,1083.3 923.8,1085.8 923.9,1088.3 923.9,1090.8 924,1093.3 924.1,1095.8 924.2,1098.3 924.3,1100.8 924.4,1103.3 924.5,1105.8 924.6,1108.3 924.8,1110.8 925,1113.3 925.3,1115.8 925.6,1118.3 925.9,1120.8 926.2,1123.3 926.6,1125.8 927,1128.3 927.4,1130.8 927.9,1133.3 928.4,1135.8 929,1138.3 929.7,1140.8 930.4,1143.3 931.2,1145.8 932.2,1148.3 933.3,1150.8 934.6,1153.3 936.1,1155.8 937.7,1158.3 939.4,1160.8 941.3,1163.3 943.2,1165.8 945.4,1168.3 947.7,1170.8 950.1,1173.3 952.6,1175.8 955.2,1178.3 957.9,1180.8 960.8,1183.3 964,1185.8 967.4,1188.3 971.2,1190.8 975.5,1193.3 980.1,1195.8 985.2,1198.3 990.6,1200.8 996.2,1203.3 1002.1,1205.8 1008.3,1208.3 1014.8,1210.8 1021.4,1213.3 1028,1215.8 1034.6,1218.3 1041,1220.8 1047.5,1223.3 1053.9,1225.8 1060.5,1228.3 1067.3,1230.8 1074.4,1233.3 1081.8,1235.8 1089.4,1238.3 1096.9,1240.8 1104.4,1243.3 1111.6,1245.8 1118.7,1248.3 1125.6,1250.8 1132.1,1253.3 1138,1255.8 1143.2,1258.3 1147.5,1260.8 1151.2,1263.3 1154.5,1265.8 1157.1,1268.3 1159.2,1270.8 1160.7,1273.3 1161.7,1275.8 1162.3,1278.3 1162.5,1280.8 1162.4,1283.3 1162.1,1285.8 1161.5,1288.3 1160.8,1290.8 1159.9,1293.3 1159,1295.8 1158,1298.3 1156.8,1300.8 1155.5,1303.3 1154,1305.8 1152.5,1308.3 1150.8,1310.8 1149.1,1313.3 1147.4,1315.8 1145.7,1318.3 1144,1320.8 1142.2,1323.3 1140.4,1325.8 1138.5,1328.3 1136.6,1330.8 1134.6,1333.3 1132.6,1335.8 1130.5,1338.3 1128.4,1340.8 1126.2,1343.3 1124,1345.8 1121.7,1348.3 1119.5,1350.8 1117.2,1353.3 1115,1355.8 1112.7,1358.3 1110.4,1360.8 1108.2,1363.3 1105.9,1365.8 1103.6,1368.3 1101.4,1370.8 1099.1,1373.3 1096.9,1375.8 1094.8,1378.3 1092.7,1380.8 1090.6,1383.3 1088.7,1385.8 1086.8,1388.3 1085.1,1390.8 1083.4,1393.3 1081.9,1395.8 1080.5,1398.3 1079.2,1400.8 1078.1,1403.3 1077.1,1405.8 1076.2,1408.3 1075.3,1410.8 1074.4,1413.3 1073.5,1415.8 1072.5,1418.3 1071.4,1420.8 1070.2,1423.3 1068.8,1425.8 1067.3,1428.3 1065.5,1430.8 1063.6,1433.3 1061.5,1435.8 1059.2,1438.3 1056.8,1440.8 1054.2,1443.3 1051.5,1445.8 1048.6,1448.3 1045.6,1450.8 1042.6,1453.3 1039.4,1455.8 1036.1,1458.3 1032.9,1460.8 1029.6,1463.3 1026.3,1465.8 1023,1468.3 1019.7,1470.8 1016.5,1473.3 1013.4,1475.8 1010.3,1478.3 1007.4,1480.8 1004.6,1483.3 1002,1485.8 999.6,1488.3 997.4,1490.8 995.4,1493.3 993.6,1495.8 991.9,1498.3 990.2,1500.8 988.7,1503.3 987.2,1505.8 985.7,1508.3 984.4,1510.8 983.1,1513.3 981.9,1515.8 980.8,1518.3 979.7,1520.8 978.7,1523.3 977.7,1525.8 976.7,1528.3 975.6,1530.8 974.5,1533.3 973.4,1535.8 972.3,1538.3 971.1,1540.8 969.9,1543.3 968.5,1545.8 967.2,1548.3 965.8,1550.8 964.4,1553.3 963,1555.8 961.6,1558.3 960.2,1560.8 958.8,1563.3 957.5,1565.8 956.2,1568.3 955,1570.8 953.8,1573.3 952.6,1575.8 951.6,1578.3 950.5,1580.8 949.6,1583.3 948.7,1585.8 947.8,1588.3 947,1590.8 946.1,1593.3 945.4,1595.8 944.6,1598.3 943.8,1600.8 943.1,1603.3 942.4,1605.8 941.6,1608.3 940.9,1610.8 940.1,1613.3 939.4,1615.8 938.6,1618.3 937.8,1620.8 936.9,1623.3 936.1,1625.8 935.2,1628.3 934.3,1630.8 933.4,1633.3 932.6,1635.8 931.8,1638.3 931,1640.8 930.2,1643.3 929.5,1645.8 928.8,1648.3 928.2,1650.8 927.6,1653.3 927.1,1655.8 926.6,1658.3 926.1,1660.8 925.6,1663.3 925.2,1665.8 924.9,1668.3 924.6,1670.8 924.4,1673.3 924.2,1675.8 924.1,1678.3 924,1680.8 924,1683.3 923.9,1685.8 923.8,1688.3 923.7,1690.8 923.7,1693.3 923.6,1695.8 923.5,1698.3 923.5,1700.8 923.4,1703.3 923.4,1704.5 923.4,1703.3 923.3,1700.8 923.3,1698.3 923.2,1695.8 923.1,1693.3 923.1,1690.8 923,1688.3 922.9,1685.8 922.8,1683.3 922.8,1680.8 922.7,1678.3 922.6,1675.8 922.4,1673.3 922.2,1670.8 921.9,1668.3 921.6,1665.8 921.2,1663.3 920.7,1660.8 920.2,1658.3 919.7,1655.8 919.2,1653.3 918.6,1650.8 918,1648.3 917.3,1645.8 916.6,1643.3 915.8,1640.8 915,1638.3 914.2,1635.8 913.4,1633.3 912.5,1630.8 911.6,1628.3 910.7,1625.8 909.9,1623.3 909,1620.8 908.2,1618.3 907.4,1615.8 906.7,1613.3 905.9,1610.8 905.2,1608.3 904.4,1605.8 903.7,1603.3 903,1600.8 902.2,1598.3 901.4,1595.8 900.7,1593.3 899.8,1590.8 899,1588.3 898.1,1585.8 897.2,1583.3 896.3,1580.8 895.2,1578.3 894.2,1575.8 893,1573.3 891.8,1570.8 890.6,1568.3 889.3,1565.8 888,1563.3 886.6,1560.8 885.2,1558.3 883.8,1555.8 882.4,1553.3 881,1550.8 879.6,1548.3 878.3,1545.8 876.9,1543.3 875.7,1540.8 874.5,1538.3 873.4,1535.8 872.3,1533.3 871.2,1530.8 870.1,1528.3 869.1,1525.8 868.1,1523.3 867.1,1520.8 866,1518.3 864.9,1515.8 863.7,1513.3 862.4,1510.8 861.1,1508.3 859.6,1505.8 858.1,1503.3 856.6,1500.8 854.9,1498.3 853.2,1495.8 851.4,1493.3 849.4,1490.8 847.2,1488.3 844.8,1485.8 842.2,1483.3 839.4,1480.8 836.5,1478.3 833.4,1475.8 830.3,1473.3 827.1,1470.8 823.8,1468.3 820.5,1465.8 817.2,1463.3 813.9,1460.8 810.7,1458.3 807.4,1455.8 804.2,1453.3 801.2,1450.8 798.2,1448.3 795.3,1445.8 792.6,1443.3 790,1440.8 787.6,1438.3 785.3,1435.8 783.2,1433.3 781.3,1430.8 779.5,1428.3 778,1425.8 776.6,1423.3 775.4,1420.8 774.3,1418.3 773.3,1415.8 772.4,1413.3 771.5,1410.8 770.6,1408.3 769.7,1405.8 768.7,1403.3 767.6,1400.8 766.3,1398.3 764.9,1395.8 763.4,1393.3 761.7,1390.8 760,1388.3 758.1,1385.8 756.2,1383.3 754.1,1380.8 752,1378.3 749.9,1375.8 747.7,1373.3 745.4,1370.8 743.2,1368.3 740.9,1365.8 738.6,1363.3 736.4,1360.8 734.1,1358.3 731.8,1355.8 729.6,1353.3 727.3,1350.8 725.1,1348.3 722.8,1345.8 720.6,1343.3 718.4,1340.8 716.3,1338.3 714.2,1335.8 712.2,1333.3 710.2,1330.8 708.3,1328.3 706.4,1325.8 704.6,1323.3 702.8,1320.8 701.1,1318.3 699.4,1315.8 697.7,1313.3 696,1310.8 694.3,1308.3 692.8,1305.8 691.3,1303.3 690,1300.8 688.8,1298.3 687.8,1295.8 686.9,1293.3 686,1290.8 685.3,1288.3 684.7,1285.8 684.4,1283.3 684.3,1280.8 684.5,1278.3 685.1,1275.8 686.1,1273.3 687.6,1270.8 689.7,1268.3 692.3,1265.8 695.6,1263.3 699.3,1260.8 703.6,1258.3 708.8,1255.8 714.7,1253.3 721.2,1250.8 728.1,1248.3 735.2,1245.8 742.4,1243.3 749.9,1240.8 757.4,1238.3 765,1235.8 772.4,1233.3 779.5,1230.8 786.3,1228.3 792.9,1225.8 799.3,1223.3 805.8,1220.8 812.2,1218.3 818.8,1215.8 825.4,1213.3 832,1210.8 838.5,1208.3 844.7,1205.8 850.6,1203.3 856.2,1200.8 861.6,1198.3 866.7,1195.8 871.3,1193.3 875.6,1190.8 879.4,1188.3 882.8,1185.8 886,1183.3 888.9,1180.8 891.6,1178.3 894.2,1175.8 896.7,1173.3 899.1,1170.8 901.4,1168.3 903.6,1165.8 905.5,1163.3 907.4,1160.8 909.1,1158.3 910.7,1155.8 912.2,1153.3 913.5,1150.8 914.6,1148.3 915.6,1145.8 916.4,1143.3 917.1,1140.8 917.8,1138.3 918.4,1135.8 918.9,1133.3 919.4,1130.8 919.8,1128.3 920.2,1125.8 920.6,1123.3 920.9,1120.8 921.2,1118.3 921.5,1115.8 921.8,1113.3 922,1110.8 922.2,1108.3 922.3,1105.8 922.4,1103.3 922.5,1100.8 922.6,1098.3 922.7,1095.8 922.8,1093.3 922.9,1090.8 922.9,1088.3 923,1085.8 923.1,1083.3 923.2,1080.8 923.3,1078.3 923.3,1075.8Z" fill="#47B0C9" stroke="#000" stroke-width="2.05" stroke-linejoin="round"/>
<line x1="923.4" y1="1163.4" x2="923.4" y2="1273.8" stroke="#000" stroke-width="2.0" stroke-linecap="butt"/>
<line x1="923.4" y1="1422.8" x2="923.4" y2="1615.9" stroke="#000" stroke-width="2.0" stroke-linecap="butt"/>
<rect x="875.8" y="1273.8" width="95.2" height="149" fill="#fff" stroke="#000" stroke-width="2.1"/>
<line x1="875.8" y1="1338.8" x2="971" y2="1338.8" stroke="#000" stroke-width="4.2" stroke-linecap="butt"/>
<path d="M446.5,1150 V1140.1 H923.5 V1153.6" fill="none" stroke="#000" stroke-width="1.15"/>
<text x="583.6" y="1122.6" font-size="44.0" text-anchor="start" font-weight="normal">p &lt; 2.22e−16</text>
<text x="1277.5" y="1047.7" font-size="67" text-anchor="start" font-weight="bold">D</text>
<path d="M1429.8,1071.2 V1733 H2485.4" fill="none" stroke="#000" stroke-width="2.3" stroke-linecap="butt" stroke-linejoin="miter"/>
<line x1="1423.2" y1="1250.5" x2="1429.8" y2="1250.5" stroke="#000" stroke-width="2.1" stroke-linecap="butt"/>
<text x="1420.7" y="1263" font-size="44.5" text-anchor="end" font-weight="normal">100</text>
<line x1="1423.2" y1="1473.7" x2="1429.8" y2="1473.7" stroke="#000" stroke-width="2.1" stroke-linecap="butt"/>
<text x="1420.7" y="1486.2" font-size="44.5" text-anchor="end" font-weight="normal">50</text>
<line x1="1423.2" y1="1696.9" x2="1429.8" y2="1696.9" stroke="#000" stroke-width="2.1" stroke-linecap="butt"/>
<text x="1420.7" y="1709.4" font-size="44.5" text-anchor="end" font-weight="normal">0</text>
<line x1="1532" y1="1733" x2="1532" y2="1739.3" stroke="#000" stroke-width="2.1" stroke-linecap="butt"/>
<line x1="1702.3" y1="1733" x2="1702.3" y2="1739.3" stroke="#000" stroke-width="2.1" stroke-linecap="butt"/>
<line x1="1872.6" y1="1733" x2="1872.6" y2="1739.3" stroke="#000" stroke-width="2.1" stroke-linecap="butt"/>
<line x1="2042.8" y1="1733" x2="2042.8" y2="1739.3" stroke="#000" stroke-width="2.1" stroke-linecap="butt"/>
<line x1="2213.3" y1="1733" x2="2213.3" y2="1739.3" stroke="#000" stroke-width="2.1" stroke-linecap="butt"/>
<line x1="2383.4" y1="1733" x2="2383.4" y2="1739.3" stroke="#000" stroke-width="2.1" stroke-linecap="butt"/>
<text x="1343.6" y="1379" font-size="47.0" text-anchor="middle" font-weight="normal" transform="rotate(-90 1343.6 1379)">Obeserved CAZymes</text>
<path d="M1532,1138.4 1532,1140.9 1532.1,1143.4 1532.1,1145.9 1532.1,1148.4 1532.1,1150.9 1532.2,1153.4 1532.2,1155.9 1532.2,1158.4 1532.3,1160.9 1532.3,1163.4 1532.3,1165.9 1532.4,1168.4 1532.4,1170.9 1532.4,1173.4 1532.4,1175.9 1532.5,1178.4 1532.5,1180.9 1532.5,1183.4 1532.6,1185.9 1532.6,1188.4 1532.6,1190.9 1532.7,1193.4 1532.7,1195.9 1532.7,1198.4 1532.8,1200.9 1532.8,1203.4 1532.9,1205.9 1532.9,1208.4 1532.9,1210.9 1533,1213.4 1533,1215.9 1533.1,1218.4 1533.1,1220.9 1533.1,1223.4 1533.2,1225.9 1533.3,1228.4 1533.3,1230.9 1533.5,1233.4 1533.7,1235.9 1534,1238.4 1534.4,1240.9 1534.8,1243.4 1535.3,1245.9 1535.7,1248.4 1536.1,1250.9 1536.6,1253.4 1537,1255.9 1537.4,1258.4 1537.9,1260.9 1538.3,1263.4 1538.7,1265.9 1539.1,1268.4 1539.5,1270.9 1539.9,1273.4 1540.3,1275.9 1540.7,1278.4 1541.1,1280.9 1541.4,1283.4 1541.8,1285.9 1542.1,1288.4 1542.4,1290.9 1542.7,1293.4 1543,1295.9 1543.3,1298.4 1543.6,1300.9 1543.9,1303.4 1544.2,1305.9 1544.5,1308.4 1544.8,1310.9 1545.1,1313.4 1545.4,1315.9 1545.6,1318.4 1545.9,1320.9 1546.1,1323.4 1546.4,1325.9 1546.6,1328.4 1546.8,1330.9 1547,1333.4 1547.1,1335.9 1547.2,1338.4 1547.4,1340.9 1547.5,1343.4 1547.6,1345.9 1547.7,1348.4 1547.8,1350.9 1547.9,1353.4 1547.9,1355.9 1548,1358.4 1548.1,1360.9 1548.2,1363.4 1548.3,1365.9 1548.3,1368.4 1548.4,1370.9 1548.5,1373.4 1548.6,1375.9 1548.7,1378.4 1548.8,1380.9 1548.8,1383.4 1549,1385.9 1549.1,1388.4 1549.2,1390.9 1549.4,1393.4 1549.6,1395.9 1549.8,1398.4 1550.1,1400.9 1550.4,1403.4 1550.8,1405.9 1551.4,1408.4 1552.2,1410.9 1553,1413.4 1553.8,1415.9 1554.7,1418.4 1555.5,1420.9 1556.2,1423.4 1556.9,1425.9 1557.6,1428.4 1558.3,1430.9 1558.9,1433.4 1559.5,1435.9 1560.1,1438.4 1560.6,1440.9 1561.1,1443.4 1561.6,1445.9 1562,1448.4 1562.4,1450.9 1562.8,1453.4 1563.1,1455.9 1563.4,1458.4 1563.7,1460.9 1564,1463.4 1564.2,1465.9 1564.4,1468.4 1564.5,1470.9 1564.6,1473.4 1564.7,1475.9 1564.7,1478.4 1564.7,1480.9 1564.8,1483.4 1564.8,1485.9 1564.8,1488.4 1564.8,1490.9 1564.8,1493.4 1564.7,1495.9 1564.6,1498.4 1564.5,1500.9 1564.4,1503.4 1564.3,1505.9 1564.1,1508.4 1563.9,1510.9 1563.7,1513.4 1563.4,1515.9 1563.2,1518.4 1562.9,1520.9 1562.6,1523.4 1562.3,1525.9 1561.9,1528.4 1561.6,1530.9 1561.2,1533.4 1560.8,1535.9 1560.5,1538.4 1560.1,1540.9 1559.8,1543.4 1559.5,1545.9 1559.2,1548.4 1558.9,1550.9 1558.7,1553.4 1558.4,1555.9 1558.2,1558.4 1558,1560.9 1557.8,1563.4 1557.6,1565.9 1557.4,1568.4 1557.2,1570.9 1556.9,1573.4 1556.6,1575.9 1556.2,1578.4 1555.7,1580.9 1555.2,1583.4 1554.6,1585.9 1553.9,1588.4 1553.3,1590.9 1552.6,1593.4 1552,1595.9 1551.3,1598.4 1550.6,1600.9 1549.9,1603.4 1549.2,1605.9 1548.5,1608.4 1547.8,1610.9 1547,1613.4 1546.3,1615.9 1545.5,1618.4 1544.7,1620.9 1543.9,1623.4 1543.1,1625.9 1542.4,1628.4 1541.6,1630.9 1540.8,1633.4 1540.1,1635.9 1539.4,1638.4 1538.6,1640.9 1538,1643.4 1537.3,1645.9 1536.7,1648.4 1536.2,1650.9 1535.6,1653.4 1535.1,1655.9 1534.7,1658.4 1534.2,1660.9 1533.9,1663.4 1533.6,1665.9 1533.4,1668.4 1533.2,1670.9 1533,1673.4 1532.8,1675.9 1532.7,1678.4 1532.6,1680.9 1532.4,1683.4 1532.3,1685.9 1532.2,1688.4 1532.2,1690.9 1532.1,1693.4 1532,1695.9 1532,1696.9 1532,1695.9 1531.9,1693.4 1531.8,1690.9 1531.8,1688.4 1531.7,1685.9 1531.6,1683.4 1531.4,1680.9 1531.3,1678.4 1531.2,1675.9 1531,1673.4 1530.8,1670.9 1530.6,1668.4 1530.4,1665.9 1530.1,1663.4 1529.8,1660.9 1529.3,1658.4 1528.9,1655.9 1528.4,1653.4 1527.8,1650.9 1527.3,1648.4 1526.7,1645.9 1526,1643.4 1525.4,1640.9 1524.6,1638.4 1523.9,1635.9 1523.2,1633.4 1522.4,1630.9 1521.6,1628.4 1520.9,1625.9 1520.1,1623.4 1519.3,1620.9 1518.5,1618.4 1517.7,1615.9 1517,1613.4 1516.2,1610.9 1515.5,1608.4 1514.8,1605.9 1514.1,1603.4 1513.4,1600.9 1512.7,1598.4 1512,1595.9 1511.4,1593.4 1510.7,1590.9 1510.1,1588.4 1509.4,1585.9 1508.8,1583.4 1508.3,1580.9 1507.8,1578.4 1507.4,1575.9 1507.1,1573.4 1506.8,1570.9 1506.6,1568.4 1506.4,1565.9 1506.2,1563.4 1506,1560.9 1505.8,1558.4 1505.6,1555.9 1505.3,1553.4 1505.1,1550.9 1504.8,1548.4 1504.5,1545.9 1504.2,1543.4 1503.9,1540.9 1503.5,1538.4 1503.2,1535.9 1502.8,1533.4 1502.4,1530.9 1502.1,1528.4 1501.7,1525.9 1501.4,1523.4 1501.1,1520.9 1500.8,1518.4 1500.6,1515.9 1500.3,1513.4 1500.1,1510.9 1499.9,1508.4 1499.7,1505.9 1499.6,1503.4 1499.5,1500.9 1499.4,1498.4 1499.3,1495.9 1499.2,1493.4 1499.2,1490.9 1499.2,1488.4 1499.2,1485.9 1499.2,1483.4 1499.3,1480.9 1499.3,1478.4 1499.3,1475.9 1499.4,1473.4 1499.5,1470.9 1499.6,1468.4 1499.8,1465.9 1500,1463.4 1500.3,1460.9 1500.6,1458.4 1500.9,1455.9 1501.2,1453.4 1501.6,1450.9 1502,1448.4 1502.4,1445.9 1502.9,1443.4 1503.4,1440.9 1503.9,1438.4 1504.5,1435.9 1505.1,1433.4 1505.7,1430.9 1506.4,1428.4 1507.1,1425.9 1507.8,1423.4 1508.5,1420.9 1509.3,1418.4 1510.2,1415.9 1511,1413.4 1511.8,1410.9 1512.6,1408.4 1513.2,1405.9 1513.6,1403.4 1513.9,1400.9 1514.2,1398.4 1514.4,1395.9 1514.6,1393.4 1514.8,1390.9 1514.9,1388.4 1515,1385.9 1515.2,1383.4 1515.2,1380.9 1515.3,1378.4 1515.4,1375.9 1515.5,1373.4 1515.6,1370.9 1515.7,1368.4 1515.7,1365.9 1515.8,1363.4 1515.9,1360.9 1516,1358.4 1516.1,1355.9 1516.1,1353.4 1516.2,1350.9 1516.3,1348.4 1516.4,1345.9 1516.5,1343.4 1516.6,1340.9 1516.8,1338.4 1516.9,1335.9 1517,1333.4 1517.2,1330.9 1517.4,1328.4 1517.6,1325.9 1517.9,1323.4 1518.1,1320.9 1518.4,1318.4 1518.6,1315.9 1518.9,1313.4 1519.2,1310.9 1519.5,1308.4 1519.8,1305.9 1520.1,1303.4 1520.4,1300.9 1520.7,1298.4 1521,1295.9 1521.3,1293.4 1521.6,1290.9 1521.9,1288.4 1522.2,1285.9 1522.6,1283.4 1522.9,1280.9 1523.3,1278.4 1523.7,1275.9 1524.1,1273.4 1524.5,1270.9 1524.9,1268.4 1525.3,1265.9 1525.7,1263.4 1526.1,1260.9 1526.6,1258.4 1527,1255.9 1527.4,1253.4 1527.9,1250.9 1528.3,1248.4 1528.7,1245.9 1529.2,1243.4 1529.6,1240.9 1530,1238.4 1530.3,1235.9 1530.5,1233.4 1530.7,1230.9 1530.7,1228.4 1530.8,1225.9 1530.9,1223.4 1530.9,1220.9 1530.9,1218.4 1531,1215.9 1531,1213.4 1531.1,1210.9 1531.1,1208.4 1531.1,1205.9 1531.2,1203.4 1531.2,1200.9 1531.3,1198.4 1531.3,1195.9 1531.3,1193.4 1531.4,1190.9 1531.4,1188.4 1531.4,1185.9 1531.5,1183.4 1531.5,1180.9 1531.5,1178.4 1531.6,1175.9 1531.6,1173.4 1531.6,1170.9 1531.6,1168.4 1531.7,1165.9 1531.7,1163.4 1531.7,1160.9 1531.8,1158.4 1531.8,1155.9 1531.8,1153.4 1531.9,1150.9 1531.9,1148.4 1531.9,1145.9 1531.9,1143.4 1532,1140.9Z" fill="#DC4B37" stroke="#000" stroke-width="2.05" stroke-linejoin="round"/>
<line x1="1532" y1="1237" x2="1532" y2="1415.8" stroke="#000" stroke-width="2.0" stroke-linecap="butt"/>
<line x1="1532" y1="1548.7" x2="1532" y2="1620.6" stroke="#000" stroke-width="2.0" stroke-linecap="butt"/>
<rect x="1515.2" y="1415.8" width="33.6" height="132.9" fill="#fff" stroke="#000" stroke-width="2.1"/>
<line x1="1515.2" y1="1486.5" x2="1548.8" y2="1486.5" stroke="#000" stroke-width="4.2" stroke-linecap="butt"/>
<path d="M1702.3,1332.2 1702.4,1334.7 1702.6,1337.2 1702.7,1339.7 1702.9,1342.2 1703.1,1344.7 1703.3,1347.2 1703.6,1349.7 1704,1352.2 1704.6,1354.7 1705.6,1357.2 1706.7,1359.7 1707.8,1362.2 1709.1,1364.7 1710.4,1367.2 1711.8,1369.7 1713.4,1372.2 1715.1,1374.7 1716.9,1377.2 1718.7,1379.7 1720.5,1382.2 1722.3,1384.7 1724,1387.2 1725.7,1389.7 1727.3,1392.2 1728.9,1394.7 1730.5,1397.2 1731.9,1399.7 1733.2,1402.2 1734.4,1404.7 1735.5,1407.2 1736.5,1409.7 1737.4,1412.2 1738.3,1414.7 1739,1417.2 1739.6,1419.7 1740.1,1422.2 1740.6,1424.7 1740.9,1427.2 1741.3,1429.7 1741.6,1432.2 1741.8,1434.7 1742,1437.2 1742.2,1439.7 1742.3,1442.2 1742.4,1444.7 1742.5,1447.2 1742.6,1449.7 1742.7,1452.2 1742.7,1454.7 1742.6,1457.2 1742.5,1459.7 1742.3,1462.2 1742.1,1464.7 1741.7,1467.2 1741.4,1469.7 1741.1,1472.2 1740.6,1474.7 1740.1,1477.2 1739.6,1479.7 1739,1482.2 1738.4,1484.7 1738,1487.2 1737.6,1489.7 1737.4,1492.2 1737.2,1494.7 1737.1,1497.2 1736.9,1499.7 1736.8,1502.2 1736.7,1504.7 1736.6,1507.2 1736.5,1509.7 1736.3,1512.2 1736.2,1514.7 1736.1,1517.2 1736,1519.7 1735.9,1522.2 1735.9,1524.7 1736,1527.2 1736.2,1529.7 1736.4,1532.2 1736.6,1534.7 1736.7,1537.2 1736.8,1539.7 1736.9,1542.2 1736.9,1544.7 1736.9,1547.2 1736.8,1549.7 1736.8,1552.2 1736.7,1554.7 1736.6,1557.2 1736.4,1559.7 1735.9,1562.2 1735.2,1564.7 1734.2,1567.2 1733.2,1569.7 1732.1,1572.2 1731,1574.7 1730.1,1577.2 1729.1,1579.7 1728.1,1582.2 1727.1,1584.7 1726.1,1587.2 1725.1,1589.7 1724.1,1592.2 1723,1594.7 1722,1597.2 1721,1599.7 1720,1602.2 1719,1604.7 1718,1607.2 1717,1609.7 1716.1,1612.2 1715.2,1614.7 1714.3,1617.2 1713.5,1619.7 1712.7,1622.2 1711.9,1624.7 1711.1,1627.2 1710.4,1629.7 1709.7,1632.2 1709,1634.7 1708.4,1637.2 1707.8,1639.7 1707.2,1642.2 1706.7,1644.7 1706.2,1647.2 1705.7,1649.7 1705.2,1652.2 1704.8,1654.7 1704.5,1657.2 1704.2,1659.7 1703.9,1662.2 1703.7,1664.7 1703.5,1667.2 1703.4,1669.7 1703.3,1672.2 1703.1,1674.7 1703,1677.2 1702.9,1679.7 1702.8,1682.2 1702.7,1684.7 1702.6,1687.2 1702.6,1689.7 1702.5,1692.2 1702.4,1694.7 1702.4,1697.2 1702.3,1699.7 1702.3,1702.2 1702.3,1702.3 1702.3,1702.2 1702.3,1699.7 1702.2,1697.2 1702.2,1694.7 1702.1,1692.2 1702,1689.7 1702,1687.2 1701.9,1684.7 1701.8,1682.2 1701.7,1679.7 1701.6,1677.2 1701.5,1674.7 1701.3,1672.2 1701.2,1669.7 1701.1,1667.2 1700.9,1664.7 1700.7,1662.2 1700.4,1659.7 1700.1,1657.2 1699.8,1654.7 1699.4,1652.2 1698.9,1649.7 1698.4,1647.2 1697.9,1644.7 1697.4,1642.2 1696.8,1639.7 1696.2,1637.2 1695.6,1634.7 1694.9,1632.2 1694.2,1629.7 1693.5,1627.2 1692.7,1624.7 1691.9,1622.2 1691.1,1619.7 1690.3,1617.2 1689.4,1614.7 1688.5,1612.2 1687.6,1609.7 1686.6,1607.2 1685.6,1604.7 1684.6,1602.2 1683.6,1599.7 1682.6,1597.2 1681.6,1594.7 1680.5,1592.2 1679.5,1589.7 1678.5,1587.2 1677.5,1584.7 1676.5,1582.2 1675.5,1579.7 1674.5,1577.2 1673.6,1574.7 1672.5,1572.2 1671.4,1569.7 1670.4,1567.2 1669.4,1564.7 1668.7,1562.2 1668.2,1559.7 1668,1557.2 1667.9,1554.7 1667.8,1552.2 1667.8,1549.7 1667.7,1547.2 1667.7,1544.7 1667.7,1542.2 1667.8,1539.7 1667.9,1537.2 1668,1534.7 1668.2,1532.2 1668.4,1529.7 1668.6,1527.2 1668.7,1524.7 1668.7,1522.2 1668.6,1519.7 1668.5,1517.2 1668.4,1514.7 1668.3,1512.2 1668.1,1509.7 1668,1507.2 1667.9,1504.7 1667.8,1502.2 1667.7,1499.7 1667.5,1497.2 1667.4,1494.7 1667.2,1492.2 1667,1489.7 1666.6,1487.2 1666.2,1484.7 1665.6,1482.2 1665,1479.7 1664.5,1477.2 1664,1474.7 1663.5,1472.2 1663.2,1469.7 1662.9,1467.2 1662.5,1464.7 1662.3,1462.2 1662.1,1459.7 1662,1457.2 1661.9,1454.7 1661.9,1452.2 1662,1449.7 1662.1,1447.2 1662.2,1444.7 1662.3,1442.2 1662.4,1439.7 1662.6,1437.2 1662.8,1434.7 1663,1432.2 1663.3,1429.7 1663.7,1427.2 1664,1424.7 1664.5,1422.2 1665,1419.7 1665.6,1417.2 1666.3,1414.7 1667.2,1412.2 1668.1,1409.7 1669.1,1407.2 1670.2,1404.7 1671.4,1402.2 1672.7,1399.7 1674.1,1397.2 1675.7,1394.7 1677.3,1392.2 1678.9,1389.7 1680.6,1387.2 1682.3,1384.7 1684.1,1382.2 1685.9,1379.7 1687.7,1377.2 1689.5,1374.7 1691.2,1372.2 1692.8,1369.7 1694.2,1367.2 1695.5,1364.7 1696.8,1362.2 1697.9,1359.7 1699,1357.2 1700,1354.7 1700.6,1352.2 1701,1349.7 1701.3,1347.2 1701.5,1344.7 1701.7,1342.2 1701.9,1339.7 1702,1337.2 1702.2,1334.7Z" fill="#47B0C9" stroke="#000" stroke-width="2.05" stroke-linejoin="round"/>
<line x1="1702.3" y1="1406.5" x2="1702.3" y2="1441.9" stroke="#000" stroke-width="2.0" stroke-linecap="butt"/>
<line x1="1702.3" y1="1553.6" x2="1702.3" y2="1629.2" stroke="#000" stroke-width="2.0" stroke-linecap="butt"/>
<rect x="1685.1" y="1441.9" width="34.4" height="111.7" fill="#fff" stroke="#000" stroke-width="2.1"/>
<line x1="1685.1" y1="1495.1" x2="1719.5" y2="1495.1" stroke="#000" stroke-width="4.2" stroke-linecap="butt"/>
<path d="M1872.9,1157.6 1873,1160.1 1873,1162.6 1873.1,1165.1 1873.1,1167.6 1873.2,1170.1 1873.3,1172.6 1873.4,1175.1 1873.4,1177.6 1873.5,1180.1 1873.6,1182.6 1873.6,1185.1 1873.7,1187.6 1873.8,1190.1 1873.9,1192.6 1874,1195.1 1874.1,1197.6 1874.2,1200.1 1874.4,1202.6 1874.6,1205.1 1874.8,1207.6 1875.1,1210.1 1875.3,1212.6 1875.6,1215.1 1875.9,1217.6 1876.2,1220.1 1876.5,1222.6 1876.8,1225.1 1877.1,1227.6 1877.4,1230.1 1877.8,1232.6 1878.1,1235.1 1878.5,1237.6 1878.8,1240.1 1879.2,1242.6 1879.6,1245.1 1880,1247.6 1880.4,1250.1 1880.8,1252.6 1881.2,1255.1 1881.6,1257.6 1882,1260.1 1882.3,1262.6 1882.7,1265.1 1883,1267.6 1883.3,1270.1 1883.7,1272.6 1884,1275.1 1884.4,1277.6 1884.7,1280.1 1885.1,1282.6 1885.5,1285.1 1886,1287.6 1886.5,1290.1 1887,1292.6 1887.6,1295.1 1888.2,1297.6 1888.9,1300.1 1889.6,1302.6 1890.4,1305.1 1891.3,1307.6 1892.2,1310.1 1893.2,1312.6 1894.3,1315.1 1895.3,1317.6 1896.4,1320.1 1897.6,1322.6 1898.7,1325.1 1899.9,1327.6 1901.1,1330.1 1902.2,1332.6 1903.3,1335.1 1904.3,1337.6 1905.3,1340.1 1906.2,1342.6 1907.1,1345.1 1907.9,1347.6 1908.6,1350.1 1909.2,1352.6 1909.8,1355.1 1910.3,1357.6 1910.8,1360.1 1911.2,1362.6 1911.6,1365.1 1912,1367.6 1912.4,1370.1 1912.8,1372.6 1913.1,1375.1 1913.5,1377.6 1913.8,1380.1 1914.2,1382.6 1914.7,1385.1 1915.2,1387.6 1915.7,1390.1 1916.2,1392.6 1916.7,1395.1 1917.3,1397.6 1917.8,1400.1 1918.3,1402.6 1918.8,1405.1 1919.3,1407.6 1919.8,1410.1 1920.2,1412.6 1920.6,1415.1 1921,1417.6 1921.4,1420.1 1921.7,1422.6 1921.9,1425.1 1922.1,1427.6 1922.1,1430.1 1922,1432.6 1921.8,1435.1 1921.7,1437.6 1921.4,1440.1 1921.1,1442.6 1920.7,1445.1 1920,1447.6 1919.1,1450.1 1917.9,1452.6 1916.7,1455.1 1915.6,1457.6 1914.4,1460.1 1913.3,1462.6 1912.2,1465.1 1911,1467.6 1909.9,1470.1 1908.6,1472.6 1907.4,1475.1 1906.1,1477.6 1904.8,1480.1 1903.5,1482.6 1902.1,1485.1 1900.7,1487.6 1899.2,1490.1 1897.6,1492.6 1896,1495.1 1894.3,1497.6 1892.6,1500.1 1891,1502.6 1889.4,1505.1 1887.9,1507.6 1886.4,1510.1 1885,1512.6 1883.6,1515.1 1882.4,1517.6 1881.3,1520.1 1880.3,1522.6 1879.4,1525.1 1878.6,1527.6 1877.9,1530.1 1877.2,1532.6 1876.7,1535.1 1876.3,1537.6 1875.9,1540.1 1875.6,1542.6 1875.3,1545.1 1875,1547.6 1874.8,1550.1 1874.6,1552.6 1874.4,1555.1 1874.2,1557.6 1874.1,1560.1 1874,1562.6 1873.9,1565.1 1873.8,1567.6 1873.7,1570.1 1873.6,1572.6 1873.5,1575.1 1873.5,1577.6 1873.4,1580.1 1873.4,1582.6 1873.3,1585.1 1873.2,1587.6 1873.2,1590.1 1873.1,1592.6 1873.1,1595.1 1873,1597.6 1873,1600.1 1873,1602.6 1872.9,1605.1 1872.9,1606.3 1872.9,1605.1 1872.8,1602.6 1872.8,1600.1 1872.8,1597.6 1872.7,1595.1 1872.7,1592.6 1872.6,1590.1 1872.6,1587.6 1872.5,1585.1 1872.4,1582.6 1872.4,1580.1 1872.3,1577.6 1872.3,1575.1 1872.2,1572.6 1872.1,1570.1 1872,1567.6 1871.9,1565.1 1871.8,1562.6 1871.7,1560.1 1871.6,1557.6 1871.4,1555.1 1871.2,1552.6 1871,1550.1 1870.8,1547.6 1870.5,1545.1 1870.2,1542.6 1869.9,1540.1 1869.5,1537.6 1869.1,1535.1 1868.6,1532.6 1867.9,1530.1 1867.2,1527.6 1866.4,1525.1 1865.5,1522.6 1864.5,1520.1 1863.4,1517.6 1862.2,1515.1 1860.8,1512.6 1859.4,1510.1 1857.9,1507.6 1856.4,1505.1 1854.8,1502.6 1853.2,1500.1 1851.5,1497.6 1849.8,1495.1 1848.2,1492.6 1846.6,1490.1 1845.1,1487.6 1843.7,1485.1 1842.3,1482.6 1841,1480.1 1839.7,1477.6 1838.4,1475.1 1837.2,1472.6 1835.9,1470.1 1834.8,1467.6 1833.6,1465.1 1832.5,1462.6 1831.4,1460.1 1830.2,1457.6 1829.1,1455.1 1827.9,1452.6 1826.7,1450.1 1825.8,1447.6 1825.1,1445.1 1824.7,1442.6 1824.4,1440.1 1824.1,1437.6 1824,1435.1 1823.8,1432.6 1823.7,1430.1 1823.7,1427.6 1823.9,1425.1 1824.1,1422.6 1824.4,1420.1 1824.8,1417.6 1825.2,1415.1 1825.6,1412.6 1826,1410.1 1826.5,1407.6 1827,1405.1 1827.5,1402.6 1828,1400.1 1828.5,1397.6 1829.1,1395.1 1829.6,1392.6 1830.1,1390.1 1830.6,1387.6 1831.1,1385.1 1831.6,1382.6 1832,1380.1 1832.3,1377.6 1832.7,1375.1 1833,1372.6 1833.4,1370.1 1833.8,1367.6 1834.2,1365.1 1834.6,1362.6 1835,1360.1 1835.5,1357.6 1836,1355.1 1836.6,1352.6 1837.2,1350.1 1837.9,1347.6 1838.7,1345.1 1839.6,1342.6 1840.5,1340.1 1841.5,1337.6 1842.5,1335.1 1843.6,1332.6 1844.7,1330.1 1845.9,1327.6 1847.1,1325.1 1848.2,1322.6 1849.4,1320.1 1850.5,1317.6 1851.5,1315.1 1852.6,1312.6 1853.6,1310.1 1854.5,1307.6 1855.4,1305.1 1856.2,1302.6 1856.9,1300.1 1857.6,1297.6 1858.2,1295.1 1858.8,1292.6 1859.3,1290.1 1859.8,1287.6 1860.3,1285.1 1860.7,1282.6 1861.1,1280.1 1861.4,1277.6 1861.8,1275.1 1862.1,1272.6 1862.5,1270.1 1862.8,1267.6 1863.1,1265.1 1863.5,1262.6 1863.8,1260.1 1864.2,1257.6 1864.6,1255.1 1865,1252.6 1865.4,1250.1 1865.8,1247.6 1866.2,1245.1 1866.6,1242.6 1867,1240.1 1867.3,1237.6 1867.7,1235.1 1868,1232.6 1868.4,1230.1 1868.7,1227.6 1869,1225.1 1869.3,1222.6 1869.6,1220.1 1869.9,1217.6 1870.2,1215.1 1870.5,1212.6 1870.7,1210.1 1871,1207.6 1871.2,1205.1 1871.4,1202.6 1871.6,1200.1 1871.7,1197.6 1871.8,1195.1 1871.9,1192.6 1872,1190.1 1872.1,1187.6 1872.2,1185.1 1872.2,1182.6 1872.3,1180.1 1872.4,1177.6 1872.4,1175.1 1872.5,1172.6 1872.6,1170.1 1872.7,1167.6 1872.7,1165.1 1872.8,1162.6 1872.8,1160.1Z" fill="#229C83" stroke="#000" stroke-width="2.05" stroke-linejoin="round"/>
<line x1="1872.9" y1="1237.1" x2="1872.9" y2="1361.8" stroke="#000" stroke-width="2.0" stroke-linecap="butt"/>
<line x1="1872.9" y1="1450.4" x2="1872.9" y2="1526.4" stroke="#000" stroke-width="2.0" stroke-linecap="butt"/>
<rect x="1855.7" y="1361.8" width="34.4" height="88.6" fill="#fff" stroke="#000" stroke-width="2.1"/>
<line x1="1855.7" y1="1400.9" x2="1890.1" y2="1400.9" stroke="#000" stroke-width="4.2" stroke-linecap="butt"/>
<path d="M2042.8,1102.3 2042.8,1104.8 2042.8,1107.3 2042.9,1109.8 2042.9,1112.3 2043,1114.8 2043,1117.3 2043.1,1119.8 2043.2,1122.3 2043.3,1124.8 2043.3,1127.3 2043.4,1129.8 2043.5,1132.3 2043.6,1134.8 2043.8,1137.3 2043.9,1139.8 2044.1,1142.3 2044.3,1144.8 2044.6,1147.3 2044.8,1149.8 2045.1,1152.3 2045.4,1154.8 2045.7,1157.3 2046,1159.8 2046.3,1162.3 2046.6,1164.8 2046.9,1167.3 2047.1,1169.8 2047.4,1172.3 2047.7,1174.8 2047.9,1177.3 2048.2,1179.8 2048.5,1182.3 2048.8,1184.8 2049.1,1187.3 2049.4,1189.8 2049.7,1192.3 2050.1,1194.8 2050.5,1197.3 2050.8,1199.8 2051.3,1202.3 2051.7,1204.8 2052.2,1207.3 2052.8,1209.8 2053.5,1212.3 2054.4,1214.8 2055.6,1217.3 2057,1219.8 2058.6,1222.3 2060.4,1224.8 2062.1,1227.3 2063.9,1229.8 2065.8,1232.3 2067.8,1234.8 2069.8,1237.3 2071.9,1239.8 2074,1242.3 2076,1244.8 2078.1,1247.3 2080.2,1249.8 2082.3,1252.3 2084.3,1254.8 2086.2,1257.3 2087.9,1259.8 2089.6,1262.3 2091.2,1264.8 2092.7,1267.3 2094.1,1269.8 2095.2,1272.3 2096.1,1274.8 2096.8,1277.3 2097.5,1279.8 2098.1,1282.3 2098.5,1284.8 2098.8,1287.3 2099,1289.8 2099,1292.3 2098.9,1294.8 2098.7,1297.3 2098.6,1299.8 2098.4,1302.3 2098.1,1304.8 2097.6,1307.3 2096.9,1309.8 2096,1312.3 2094.9,1314.8 2093.6,1317.3 2092.3,1319.8 2090.9,1322.3 2089.3,1324.8 2087.6,1327.3 2085.7,1329.8 2083.8,1332.3 2081.9,1334.8 2080.1,1337.3 2078.3,1339.8 2076.6,1342.3 2074.8,1344.8 2073.1,1347.3 2071.4,1349.8 2069.8,1352.3 2068.3,1354.8 2066.7,1357.3 2065.3,1359.8 2063.9,1362.3 2062.7,1364.8 2061.6,1367.3 2060.6,1369.8 2059.6,1372.3 2058.7,1374.8 2057.9,1377.3 2057.4,1379.8 2057.3,1382.3 2057.3,1384.8 2057.4,1387.3 2057.5,1389.8 2057.7,1392.3 2058,1394.8 2058.3,1397.3 2058.7,1399.8 2059.4,1402.3 2060.3,1404.8 2061.1,1407.3 2062,1409.8 2062.7,1412.3 2063.2,1414.8 2063.8,1417.3 2064.3,1419.8 2064.7,1422.3 2065,1424.8 2065.1,1427.3 2065.2,1429.8 2065.2,1432.3 2065.2,1434.8 2065.2,1437.3 2065.2,1439.8 2065.2,1442.3 2065.1,1444.8 2064.8,1447.3 2064.4,1449.8 2063.9,1452.3 2063.3,1454.8 2062.6,1457.3 2061.9,1459.8 2061.1,1462.3 2060.2,1464.8 2059.3,1467.3 2058.3,1469.8 2057.3,1472.3 2056.3,1474.8 2055.3,1477.3 2054.3,1479.8 2053.2,1482.3 2052.2,1484.8 2051.3,1487.3 2050.4,1489.8 2049.7,1492.3 2048.9,1494.8 2048.2,1497.3 2047.6,1499.8 2047,1502.3 2046.5,1504.8 2046.1,1507.3 2045.7,1509.8 2045.3,1512.3 2044.9,1514.8 2044.6,1517.3 2044.3,1519.8 2044.1,1522.3 2044,1524.8 2043.8,1527.3 2043.7,1529.8 2043.5,1532.3 2043.4,1534.8 2043.3,1537.3 2043.2,1539.8 2043.1,1542.3 2043,1544.8 2043,1547.3 2042.9,1549.8 2042.8,1552.3 2042.8,1554 2042.8,1552.3 2042.7,1549.8 2042.6,1547.3 2042.6,1544.8 2042.5,1542.3 2042.4,1539.8 2042.3,1537.3 2042.2,1534.8 2042.1,1532.3 2041.9,1529.8 2041.8,1527.3 2041.6,1524.8 2041.5,1522.3 2041.3,1519.8 2041,1517.3 2040.7,1514.8 2040.3,1512.3 2039.9,1509.8 2039.5,1507.3 2039.1,1504.8 2038.6,1502.3 2038,1499.8 2037.4,1497.3 2036.7,1494.8 2035.9,1492.3 2035.2,1489.8 2034.3,1487.3 2033.4,1484.8 2032.4,1482.3 2031.3,1479.8 2030.3,1477.3 2029.3,1474.8 2028.3,1472.3 2027.3,1469.8 2026.3,1467.3 2025.4,1464.8 2024.5,1462.3 2023.7,1459.8 2023,1457.3 2022.3,1454.8 2021.7,1452.3 2021.2,1449.8 2020.8,1447.3 2020.5,1444.8 2020.4,1442.3 2020.4,1439.8 2020.4,1437.3 2020.4,1434.8 2020.4,1432.3 2020.4,1429.8 2020.5,1427.3 2020.6,1424.8 2020.9,1422.3 2021.3,1419.8 2021.8,1417.3 2022.4,1414.8 2022.9,1412.3 2023.6,1409.8 2024.5,1407.3 2025.3,1404.8 2026.2,1402.3 2026.9,1399.8 2027.3,1397.3 2027.6,1394.8 2027.9,1392.3 2028.1,1389.8 2028.2,1387.3 2028.3,1384.8 2028.3,1382.3 2028.2,1379.8 2027.7,1377.3 2026.9,1374.8 2026,1372.3 2025,1369.8 2024,1367.3 2022.9,1364.8 2021.7,1362.3 2020.3,1359.8 2018.9,1357.3 2017.3,1354.8 2015.8,1352.3 2014.2,1349.8 2012.5,1347.3 2010.8,1344.8 2009,1342.3 2007.3,1339.8 2005.5,1337.3 2003.7,1334.8 2001.8,1332.3 1999.9,1329.8 1998,1327.3 1996.3,1324.8 1994.7,1322.3 1993.3,1319.8 1992,1317.3 1990.7,1314.8 1989.6,1312.3 1988.7,1309.8 1988,1307.3 1987.5,1304.8 1987.2,1302.3 1987,1299.8 1986.9,1297.3 1986.7,1294.8 1986.6,1292.3 1986.6,1289.8 1986.8,1287.3 1987.1,1284.8 1987.5,1282.3 1988.1,1279.8 1988.8,1277.3 1989.5,1274.8 1990.4,1272.3 1991.5,1269.8 1992.9,1267.3 1994.4,1264.8 1996,1262.3 1997.7,1259.8 1999.4,1257.3 2001.3,1254.8 2003.3,1252.3 2005.4,1249.8 2007.5,1247.3 2009.6,1244.8 2011.6,1242.3 2013.7,1239.8 2015.8,1237.3 2017.8,1234.8 2019.8,1232.3 2021.7,1229.8 2023.5,1227.3 2025.2,1224.8 2027,1222.3 2028.6,1219.8 2030,1217.3 2031.2,1214.8 2032.1,1212.3 2032.8,1209.8 2033.4,1207.3 2033.9,1204.8 2034.3,1202.3 2034.8,1199.8 2035.1,1197.3 2035.5,1194.8 2035.9,1192.3 2036.2,1189.8 2036.5,1187.3 2036.8,1184.8 2037.1,1182.3 2037.4,1179.8 2037.7,1177.3 2037.9,1174.8 2038.2,1172.3 2038.5,1169.8 2038.7,1167.3 2039,1164.8 2039.3,1162.3 2039.6,1159.8 2039.9,1157.3 2040.2,1154.8 2040.5,1152.3 2040.8,1149.8 2041,1147.3 2041.3,1144.8 2041.5,1142.3 2041.7,1139.8 2041.8,1137.3 2042,1134.8 2042.1,1132.3 2042.2,1129.8 2042.3,1127.3 2042.3,1124.8 2042.4,1122.3 2042.5,1119.8 2042.6,1117.3 2042.6,1114.8 2042.7,1112.3 2042.7,1109.8 2042.8,1107.3 2042.8,1104.8Z" fill="#3C5386" stroke="#000" stroke-width="2.05" stroke-linejoin="round"/>
<line x1="2042.8" y1="1184" x2="2042.8" y2="1283.5" stroke="#000" stroke-width="2.0" stroke-linecap="butt"/>
<line x1="2042.8" y1="1363.5" x2="2042.8" y2="1472.7" stroke="#000" stroke-width="2.0" stroke-linecap="butt"/>
<rect x="2026" y="1283.5" width="33.6" height="80" fill="#fff" stroke="#000" stroke-width="2.1"/>
<line x1="2026" y1="1307.7" x2="2059.6" y2="1307.7" stroke="#000" stroke-width="4.2" stroke-linecap="butt"/>
<path d="M2213.3,1100.2 2213.3,1102.7 2213.3,1105.2 2213.3,1107.7 2213.3,1110.2 2213.3,1112.7 2213.4,1115.2 2213.4,1117.7 2213.4,1120.2 2213.4,1122.7 2213.5,1125.2 2213.5,1127.7 2213.5,1130.2 2213.6,1132.7 2213.6,1135.2 2213.6,1137.7 2213.7,1140.2 2213.7,1142.7 2213.8,1145.2 2213.9,1147.7 2213.9,1150.2 2214,1152.7 2214,1155.2 2214.1,1157.7 2214.2,1160.2 2214.4,1162.7 2214.6,1165.2 2214.9,1167.7 2215.2,1170.2 2215.5,1172.7 2215.8,1175.2 2216.1,1177.7 2216.4,1180.2 2216.6,1182.7 2216.9,1185.2 2217.2,1187.7 2217.5,1190.2 2217.8,1192.7 2218.1,1195.2 2218.4,1197.7 2218.8,1200.2 2219.1,1202.7 2219.4,1205.2 2219.8,1207.7 2220.2,1210.2 2220.6,1212.7 2221,1215.2 2221.4,1217.7 2221.9,1220.2 2222.3,1222.7 2222.9,1225.2 2223.4,1227.7 2224,1230.2 2224.5,1232.7 2225.1,1235.2 2225.7,1237.7 2226.4,1240.2 2227,1242.7 2227.6,1245.2 2228.3,1247.7 2228.9,1250.2 2229.5,1252.7 2230.2,1255.2 2230.8,1257.7 2231.5,1260.2 2232.1,1262.7 2232.8,1265.2 2233.6,1267.7 2234.3,1270.2 2235,1272.7 2235.7,1275.2 2236.4,1277.7 2237.1,1280.2 2237.8,1282.7 2238.5,1285.2 2239.1,1287.7 2239.7,1290.2 2240.3,1292.7 2240.9,1295.2 2241.4,1297.7 2241.9,1300.2 2242.5,1302.7 2243,1305.2 2243.5,1307.7 2244,1310.2 2244.5,1312.7 2244.9,1315.2 2245.4,1317.7 2245.8,1320.2 2246.2,1322.7 2246.6,1325.2 2246.9,1327.7 2247.3,1330.2 2247.6,1332.7 2247.8,1335.2 2248.1,1337.7 2248.4,1340.2 2248.6,1342.7 2248.9,1345.2 2249,1347.7 2249.1,1350.2 2249.2,1352.7 2249.1,1355.2 2249,1357.7 2248.8,1360.2 2248.6,1362.7 2248.4,1365.2 2248.1,1367.7 2247.8,1370.2 2247.5,1372.7 2247.2,1375.2 2246.9,1377.7 2246.6,1380.2 2246.3,1382.7 2245.9,1385.2 2245.5,1387.7 2245.1,1390.2 2244.7,1392.7 2244.3,1395.2 2243.8,1397.7 2243.4,1400.2 2242.9,1402.7 2242.5,1405.2 2242,1407.7 2241.6,1410.2 2241.1,1412.7 2240.6,1415.2 2240,1417.7 2239.4,1420.2 2238.8,1422.7 2238.2,1425.2 2237.6,1427.7 2236.9,1430.2 2236.3,1432.7 2235.7,1435.2 2235.1,1437.7 2234.6,1440.2 2234,1442.7 2233.6,1445.2 2233.2,1447.7 2232.8,1450.2 2232.5,1452.7 2232.1,1455.2 2231.8,1457.7 2231.5,1460.2 2231.3,1462.7 2231.1,1465.2 2231,1467.7 2230.9,1470.2 2231,1472.7 2231,1475.2 2231.2,1477.7 2231.3,1480.2 2231.4,1482.7 2231.5,1485.2 2231.6,1487.7 2231.6,1490.2 2231.6,1492.7 2231.5,1495.2 2231.4,1497.7 2231.3,1500.2 2231.2,1502.7 2231.1,1505.2 2230.9,1507.7 2230.8,1510.2 2230.5,1512.7 2230.2,1515.2 2229.9,1517.7 2229.5,1520.2 2229,1522.7 2228.6,1525.2 2228.2,1527.7 2227.7,1530.2 2227.3,1532.7 2226.8,1535.2 2226.3,1537.7 2225.7,1540.2 2225.2,1542.7 2224.7,1545.2 2224.2,1547.7 2223.7,1550.2 2223.2,1552.7 2222.6,1555.2 2222.1,1557.7 2221.6,1560.2 2221.1,1562.7 2220.7,1565.2 2220.2,1567.7 2219.8,1570.2 2219.3,1572.7 2218.9,1575.2 2218.5,1577.7 2218.1,1580.2 2217.7,1582.7 2217.4,1585.2 2217.1,1587.7 2216.8,1590.2 2216.5,1592.7 2216.3,1595.2 2216,1597.7 2215.8,1600.2 2215.6,1602.7 2215.4,1605.2 2215.2,1607.7 2215,1610.2 2214.8,1612.7 2214.6,1615.2 2214.5,1617.7 2214.3,1620.2 2214.2,1622.7 2214.1,1625.2 2214,1627.7 2213.9,1630.2 2213.9,1632.7 2213.8,1635.2 2213.7,1637.7 2213.6,1640.2 2213.6,1642.7 2213.5,1645.2 2213.5,1647.7 2213.4,1650.2 2213.4,1652.7 2213.3,1655.2 2213.3,1657.7 2213.3,1660.2 2213.3,1662.7 2213.3,1660.2 2213.3,1657.7 2213.3,1655.2 2213.2,1652.7 2213.2,1650.2 2213.1,1647.7 2213.1,1645.2 2213,1642.7 2213,1640.2 2212.9,1637.7 2212.8,1635.2 2212.7,1632.7 2212.7,1630.2 2212.6,1627.7 2212.5,1625.2 2212.4,1622.7 2212.3,1620.2 2212.1,1617.7 2212,1615.2 2211.8,1612.7 2211.6,1610.2 2211.4,1607.7 2211.2,1605.2 2211,1602.7 2210.8,1600.2 2210.6,1597.7 2210.3,1595.2 2210.1,1592.7 2209.8,1590.2 2209.5,1587.7 2209.2,1585.2 2208.9,1582.7 2208.5,1580.2 2208.1,1577.7 2207.7,1575.2 2207.3,1572.7 2206.8,1570.2 2206.4,1567.7 2205.9,1565.2 2205.5,1562.7 2205,1560.2 2204.5,1557.7 2204,1555.2 2203.4,1552.7 2202.9,1550.2 2202.4,1547.7 2201.9,1545.2 2201.4,1542.7 2200.9,1540.2 2200.3,1537.7 2199.8,1535.2 2199.3,1532.7 2198.9,1530.2 2198.4,1527.7 2198,1525.2 2197.6,1522.7 2197.1,1520.2 2196.7,1517.7 2196.4,1515.2 2196.1,1512.7 2195.8,1510.2 2195.7,1507.7 2195.5,1505.2 2195.4,1502.7 2195.3,1500.2 2195.2,1497.7 2195.1,1495.2 2195,1492.7 2195,1490.2 2195,1487.7 2195.1,1485.2 2195.2,1482.7 2195.3,1480.2 2195.4,1477.7 2195.6,1475.2 2195.6,1472.7 2195.7,1470.2 2195.6,1467.7 2195.5,1465.2 2195.3,1462.7 2195.1,1460.2 2194.8,1457.7 2194.5,1455.2 2194.1,1452.7 2193.8,1450.2 2193.4,1447.7 2193,1445.2 2192.6,1442.7 2192,1440.2 2191.5,1437.7 2190.9,1435.2 2190.3,1432.7 2189.7,1430.2 2189,1427.7 2188.4,1425.2 2187.8,1422.7 2187.2,1420.2 2186.6,1417.7 2186,1415.2 2185.5,1412.7 2185,1410.2 2184.6,1407.7 2184.1,1405.2 2183.7,1402.7 2183.2,1400.2 2182.8,1397.7 2182.3,1395.2 2181.9,1392.7 2181.5,1390.2 2181.1,1387.7 2180.7,1385.2 2180.3,1382.7 2180,1380.2 2179.7,1377.7 2179.4,1375.2 2179.1,1372.7 2178.8,1370.2 2178.5,1367.7 2178.2,1365.2 2178,1362.7 2177.8,1360.2 2177.6,1357.7 2177.5,1355.2 2177.4,1352.7 2177.5,1350.2 2177.6,1347.7 2177.7,1345.2 2178,1342.7 2178.2,1340.2 2178.5,1337.7 2178.8,1335.2 2179,1332.7 2179.3,1330.2 2179.7,1327.7 2180,1325.2 2180.4,1322.7 2180.8,1320.2 2181.2,1317.7 2181.7,1315.2 2182.1,1312.7 2182.6,1310.2 2183.1,1307.7 2183.6,1305.2 2184.1,1302.7 2184.7,1300.2 2185.2,1297.7 2185.7,1295.2 2186.3,1292.7 2186.9,1290.2 2187.5,1287.7 2188.1,1285.2 2188.8,1282.7 2189.5,1280.2 2190.2,1277.7 2190.9,1275.2 2191.6,1272.7 2192.3,1270.2 2193,1267.7 2193.8,1265.2 2194.5,1262.7 2195.1,1260.2 2195.8,1257.7 2196.4,1255.2 2197.1,1252.7 2197.7,1250.2 2198.3,1247.7 2199,1245.2 2199.6,1242.7 2200.2,1240.2 2200.9,1237.7 2201.5,1235.2 2202.1,1232.7 2202.6,1230.2 2203.2,1227.7 2203.7,1225.2 2204.3,1222.7 2204.7,1220.2 2205.2,1217.7 2205.6,1215.2 2206,1212.7 2206.4,1210.2 2206.8,1207.7 2207.2,1205.2 2207.5,1202.7 2207.8,1200.2 2208.2,1197.7 2208.5,1195.2 2208.8,1192.7 2209.1,1190.2 2209.4,1187.7 2209.7,1185.2 2210,1182.7 2210.2,1180.2 2210.5,1177.7 2210.8,1175.2 2211.1,1172.7 2211.4,1170.2 2211.7,1167.7 2212,1165.2 2212.2,1162.7 2212.4,1160.2 2212.5,1157.7 2212.6,1155.2 2212.6,1152.7 2212.7,1150.2 2212.7,1147.7 2212.8,1145.2 2212.9,1142.7 2212.9,1140.2 2213,1137.7 2213,1135.2 2213,1132.7 2213.1,1130.2 2213.1,1127.7 2213.1,1125.2 2213.2,1122.7 2213.2,1120.2 2213.2,1117.7 2213.2,1115.2 2213.3,1112.7 2213.3,1110.2 2213.3,1107.7 2213.3,1105.2 2213.3,1102.7Z" fill="#EE9A7D" stroke="#000" stroke-width="2.05" stroke-linejoin="round"/>
<line x1="2213.3" y1="1210.2" x2="2213.3" y2="1321.4" stroke="#000" stroke-width="2.0" stroke-linecap="butt"/>
<line x1="2213.3" y1="1455.1" x2="2213.3" y2="1553.4" stroke="#000" stroke-width="2.0" stroke-linecap="butt"/>
<rect x="2196.7" y="1321.4" width="33.2" height="133.7" fill="#fff" stroke="#000" stroke-width="2.1"/>
<line x1="2196.7" y1="1379.9" x2="2229.9" y2="1379.9" stroke="#000" stroke-width="4.2" stroke-linecap="butt"/>
<path d="M2383.4,1204.3 2383.9,1206.8 2384.6,1209.3 2385.5,1211.8 2386.5,1214.3 2387.8,1216.8 2389.4,1219.3 2391.3,1221.8 2393.6,1224.3 2396.2,1226.8 2399.3,1229.3 2403,1231.8 2407.2,1234.3 2411.7,1236.8 2416.5,1239.3 2421.6,1241.8 2427.1,1244.3 2432.7,1246.8 2438.1,1249.3 2443.2,1251.8 2448.1,1254.3 2452.7,1256.8 2456.8,1259.3 2460.1,1261.8 2462.6,1264.3 2464.7,1266.8 2466.4,1269.3 2467.6,1271.8 2468.1,1274.3 2467.9,1276.8 2467.2,1279.3 2466,1281.8 2464.5,1284.3 2462.7,1286.8 2460.1,1289.3 2457,1291.8 2453.7,1294.3 2451,1296.8 2449,1299.3 2447.5,1301.8 2446.2,1304.3 2445.3,1306.8 2444.7,1309.3 2444.5,1311.8 2444.3,1314.3 2444.2,1316.8 2444,1319.3 2443.7,1321.8 2443,1324.3 2441.8,1326.8 2440.4,1329.3 2438.8,1331.8 2437.1,1334.3 2435.2,1336.8 2433.1,1339.3 2430.9,1341.8 2428.6,1344.3 2426.1,1346.8 2423.7,1349.3 2421.3,1351.8 2418.8,1354.3 2416.3,1356.8 2413.6,1359.3 2411,1361.8 2408.4,1364.3 2405.8,1366.8 2403.5,1369.3 2401.3,1371.8 2399.3,1374.3 2397.3,1376.8 2395.4,1379.3 2393.7,1381.8 2392,1384.3 2390.5,1386.8 2389.2,1389.3 2388.1,1391.8 2387.1,1394.3 2386.2,1396.8 2385.5,1399.3 2384.9,1401.8 2384.5,1404.3 2384.1,1406.8 2383.9,1409.3 2383.6,1411.8 2383.5,1414.3 2383.4,1416.8 2383.4,1416.9 2383.4,1416.8 2383.3,1414.3 2383.2,1411.8 2382.9,1409.3 2382.7,1406.8 2382.3,1404.3 2381.9,1401.8 2381.3,1399.3 2380.6,1396.8 2379.7,1394.3 2378.7,1391.8 2377.6,1389.3 2376.3,1386.8 2374.8,1384.3 2373.1,1381.8 2371.4,1379.3 2369.5,1376.8 2367.5,1374.3 2365.5,1371.8 2363.3,1369.3 2361,1366.8 2358.4,1364.3 2355.8,1361.8 2353.2,1359.3 2350.5,1356.8 2348,1354.3 2345.5,1351.8 2343.1,1349.3 2340.7,1346.8 2338.2,1344.3 2335.9,1341.8 2333.7,1339.3 2331.6,1336.8 2329.7,1334.3 2328,1331.8 2326.4,1329.3 2325,1326.8 2323.8,1324.3 2323.1,1321.8 2322.8,1319.3 2322.6,1316.8 2322.5,1314.3 2322.3,1311.8 2322.1,1309.3 2321.5,1306.8 2320.6,1304.3 2319.3,1301.8 2317.8,1299.3 2315.8,1296.8 2313.1,1294.3 2309.8,1291.8 2306.7,1289.3 2304.1,1286.8 2302.3,1284.3 2300.8,1281.8 2299.6,1279.3 2298.9,1276.8 2298.7,1274.3 2299.2,1271.8 2300.4,1269.3 2302.1,1266.8 2304.2,1264.3 2306.7,1261.8 2310,1259.3 2314.1,1256.8 2318.7,1254.3 2323.6,1251.8 2328.7,1249.3 2334.1,1246.8 2339.7,1244.3 2345.2,1241.8 2350.3,1239.3 2355.1,1236.8 2359.6,1234.3 2363.8,1231.8 2367.5,1229.3 2370.6,1226.8 2373.2,1224.3 2375.5,1221.8 2377.4,1219.3 2379,1216.8 2380.3,1214.3 2381.3,1211.8 2382.2,1209.3 2382.9,1206.8Z" fill="#828FB2" stroke="#000" stroke-width="2.05" stroke-linejoin="round"/>
<line x1="2383.4" y1="1250.4" x2="2383.4" y2="1273.8" stroke="#000" stroke-width="2.0" stroke-linecap="butt"/>
<line x1="2383.4" y1="1330.3" x2="2383.4" y2="1370.1" stroke="#000" stroke-width="2.0" stroke-linecap="butt"/>
<rect x="2366.2" y="1273.8" width="34.4" height="56.5" fill="#fff" stroke="#000" stroke-width="2.1"/>
<line x1="2366.2" y1="1294" x2="2400.6" y2="1294" stroke="#000" stroke-width="4.2" stroke-linecap="butt"/>
<text x="1531" y="1127.2" font-size="47" text-anchor="middle" font-weight="normal">a</text>
<text x="1701.8" y="1320.7" font-size="47" text-anchor="middle" font-weight="normal">b</text>
<text x="1868.7" y="1147.5" font-size="47" text-anchor="middle" font-weight="normal">c</text>
<text x="2041.7" y="1091.6" font-size="47" text-anchor="middle" font-weight="normal">d</text>
<text x="2211" y="1087.7" font-size="47" text-anchor="middle" font-weight="normal">c</text>
<text x="2383.4" y="1192.3" font-size="47" text-anchor="middle" font-weight="normal">d</text>
<text x="1542.5" y="1759.5" font-size="43.9" text-anchor="end" font-weight="normal" transform="rotate(-30 1542.5 1759.5)">Flavobacteriaceae</text>
<text x="1712.8" y="1759.5" font-size="43.9" text-anchor="end" font-weight="normal" transform="rotate(-30 1712.8 1759.5)">Weeksellaceae</text>
<text x="1883.1" y="1759.5" font-size="43.9" text-anchor="end" font-weight="normal" transform="rotate(-30 1883.1 1759.5)">Cyclobacteriaceae</text>
<text x="2053.3" y="1759.5" font-size="43.9" text-anchor="end" font-weight="normal" transform="rotate(-30 2053.3 1759.5)">Cytophagaceae</text>
<text x="2223.8" y="1759.5" font-size="43.9" text-anchor="end" font-weight="normal" transform="rotate(-30 2223.8 1759.5)">Hymenobacteraceae</text>
<text x="2393.9" y="1759.5" font-size="43.9" text-anchor="end" font-weight="normal" transform="rotate(-30 2393.9 1759.5)">Spirosomaceae</text>
</svg>
</body></html>
